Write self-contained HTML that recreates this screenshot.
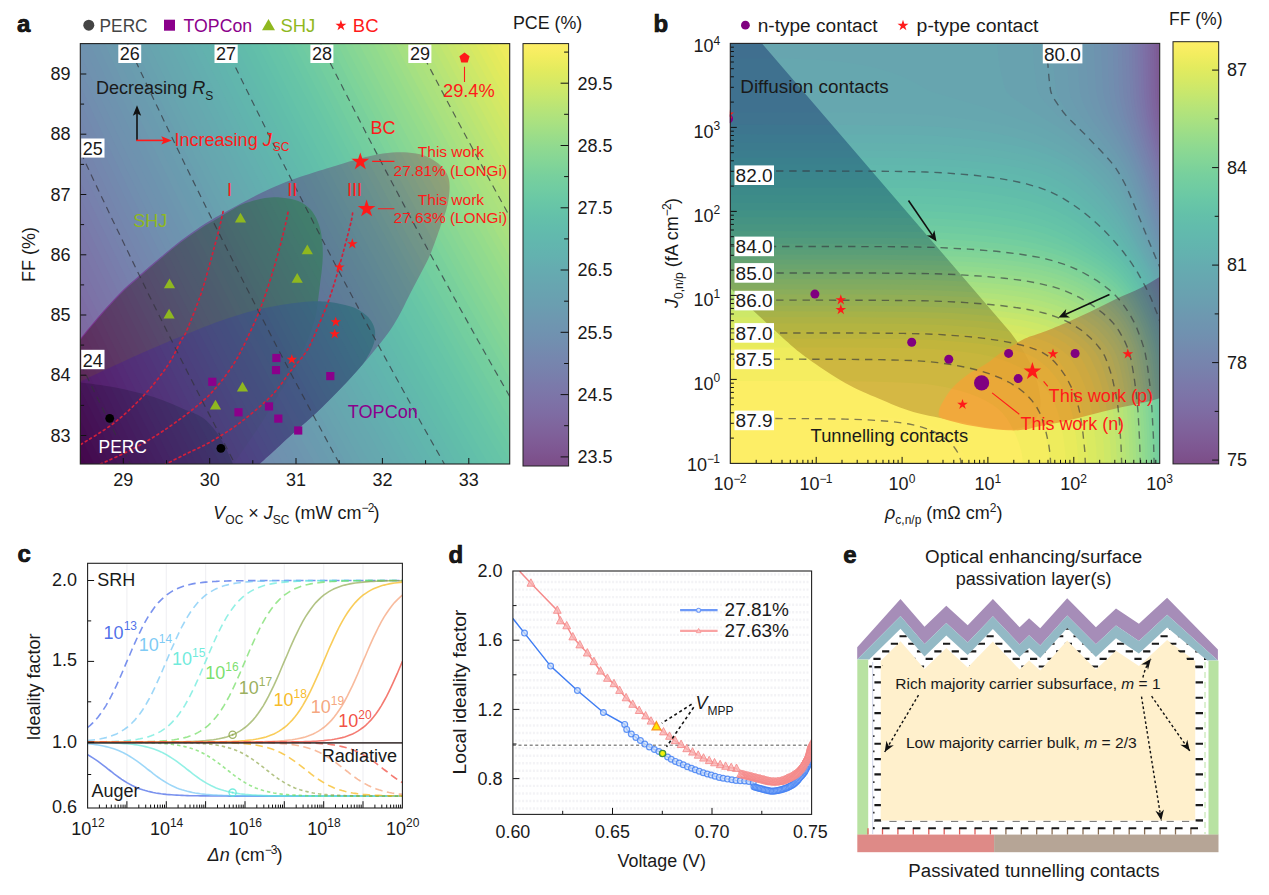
<!DOCTYPE html>
<html><head><meta charset="utf-8"><title>Figure</title>
<style>html,body{margin:0;padding:0;background:#fff}svg{display:block}text{font-family:'Liberation Sans', Arial, Helvetica, sans-serif;font-size:18px;fill:#1a1a1a}</style>
</head><body>
<svg width="1269" height="895" viewBox="0 0 1269 895">
<rect width="1269" height="895" fill="#fff"/>
<clipPath id="ca"><rect x="80.3" y="43.6" width="429.4" height="420.4"/></clipPath>
<g clip-path="url(#ca)">
<path d="M70,352C71.7,349.8 75,345.2 80,339C85,332.8 93.3,322.5 100,314.8C106.7,307.1 113.5,299.4 120.2,292.7C126.9,286 133.6,280.5 140.3,274.6C147,268.7 153.7,262.9 160.4,257.3C167.1,251.7 173.9,246 180.6,240.8C187.3,235.7 194,230.8 200.7,226.4C207.4,222 214.1,218.4 220.8,214.6C227.5,210.8 234.2,207.2 240.9,203.6C247.6,200 254.3,196.3 261,193.1C267.7,189.8 274.4,186.8 281.1,184.1C287.8,181.3 293.1,179.4 301.2,176.6C309.3,173.8 321,170.3 330,167.5C339,164.7 347.7,162 355,160C362.3,158 367.6,156.5 373.8,155.3C380,154.1 386.3,153.1 392,152.6C397.7,152.1 402.7,152.1 408,152.6C413.3,153.1 418.9,153.7 424,155.5C429.1,157.3 434.6,160.4 438.4,163.5C442.2,166.6 445.1,170.2 447,174C448.9,177.8 449.5,180.8 449.6,186C449.7,191.2 448.9,198.5 447.5,205C446.1,211.5 443.8,217.1 441,225C438.2,232.9 434.3,244.7 431,252.7C427.7,260.7 424.3,266.4 421,273C417.7,279.6 414.3,285.5 411,292C407.7,298.5 404.3,305.8 401,312C397.7,318.2 395,323.1 391,329C387,334.9 382,341.1 377,347.3C372,353.6 366.9,359.6 360.8,366.5C354.8,373.4 347.4,381.6 340.7,388.6C334,395.6 327.3,402.3 320.6,408.7C313.9,415.1 307.2,420.8 300.5,426.8C293.8,432.8 285.8,440 280.4,444.9C275,449.8 272.5,452.1 268.3,456C264.1,459.9 257.2,466 255,468L255,480L60,480Z" fill="#f541b6" fill-opacity="1"/>
<path d="M70,353.5C71.7,351.3 75,346.7 80,340.5C85,334.3 93.3,324.1 100,316.4C106.7,308.7 113.5,301.1 120.2,294.4C126.9,287.7 133.6,282.2 140.3,276.3C147,270.4 153.7,264.6 160.4,259C167.1,253.4 173.9,247.7 180.6,242.6C187.3,237.5 194,232.7 200.7,228.4C207.4,224.1 215.8,219.6 220.8,216.6C225.8,213.6 227.6,212.5 230.8,210.6C234,208.7 236.8,206.7 240,205.2C243.2,203.7 246.7,202.7 250,201.7C253.3,200.7 256.7,199.7 260,199C263.3,198.3 266.7,197.9 270,197.6C273.3,197.3 276.7,197.2 280,197.4C283.3,197.6 286.7,198 290,198.7C293.3,199.4 296.8,200.2 300,201.8C303.2,203.4 306.4,205.6 309,208C311.6,210.4 313.5,213 315.3,216.3C317.1,219.6 318.8,223.7 320,228C321.2,232.3 321.8,237.2 322.3,242C322.8,246.8 322.9,251.8 322.8,256.5C322.7,261.2 322.2,265.8 321.8,270C321.4,274.2 320.8,277.7 320.3,282C319.8,286.3 319.4,290.3 318.6,296C317.8,301.7 317.2,309.4 315.6,316.2C314,323 311.5,330.3 309,337C306.5,343.7 302.9,351.1 300.5,356.4C298.1,361.7 298.4,362.5 294.7,369C291,375.5 283.6,386.6 278.3,395.2C273,403.8 268.2,412.4 263.1,420.4C258.1,428.4 252.8,435.9 248,443C243.2,450.1 237.3,458.6 234.1,463.3C230.9,468 229.8,469.7 229,471L229,480L60,480Z" fill="#944126" fill-opacity="1"/>
<path d="M70,387C71.8,386.1 73.5,385 80.9,381.4C88.3,377.8 103.5,370.7 114.4,365.6C125.3,360.5 137.5,354.9 146.4,351C155.3,347.1 161.9,344.4 167.6,342C173.3,339.6 171.7,340.1 180.6,336.6C189.5,333.1 207.4,325.4 220.8,320.8C234.2,316.2 247.6,311.9 261,308.8C274.4,305.7 290.6,303.4 301.2,302.2C311.8,301 316.3,300.9 324.6,301.6C332.9,302.3 344.2,304.5 350.8,306.5C357.4,308.5 360.6,311 364,313.5C367.4,316 369.7,318.6 371.5,321.5C373.3,324.4 374.6,327.4 375,331C375.4,334.6 375.2,338.8 374,343C372.8,347.2 370.2,352.1 368,356C365.8,359.9 365.4,361.1 360.8,366.5C356.2,371.9 347.4,381.6 340.7,388.6C334,395.6 327.3,402.3 320.6,408.7C313.9,415.1 307.2,420.8 300.5,426.8C293.8,432.8 285.8,440 280.4,444.9C275,449.8 272.5,452.1 268.3,456C264.1,459.9 257.2,466 255,468L255,480L60,480Z" fill="#731466" fill-opacity="0.9"/>
<path d="M70,381C71.8,381.2 73.5,381.3 80.9,382.4C88.3,383.4 102.2,384.9 114.4,387.3C126.6,389.8 142.3,393.5 153.8,397.1C165.3,400.7 175.2,405.6 183.4,409C191.6,412.4 197.4,414.1 202.8,417.8C208.2,421.6 212.2,426.6 216,431.5C219.8,436.4 222.5,441.7 225.3,447C228.1,452.3 230.8,458.9 232.6,463.1C234.4,467.3 235.4,470.5 236,472L236,480L60,480Z" fill="#3c001c" fill-opacity="0.9"/>
<g opacity="0.7">
<rect x="79.3" y="42.6" width="431.4" height="422.4" fill="#fde725"/>
<path d="M71.5,-939.8 127.3,-797.8 183.2,-662.1 239,-532.1 294.9,-407.5 350.8,-288 406.6,-173.4 462.5,-63.2 518.3,42.8 518.3,764 71.5,764Z" fill="#f4e61e"/>
<path d="M71.5,-923.8 127.3,-782.2 183.2,-646.8 239,-517.1 294.9,-392.9 350.8,-273.7 406.6,-159.3 462.5,-49.4 518.3,56.3 518.3,764 71.5,764Z" fill="#ece51b"/>
<path d="M71.5,-907.8 127.3,-766.6 183.2,-631.5 239,-502.1 294.9,-378.2 350.8,-259.3 406.6,-145.2 462.5,-35.6 518.3,69.8 518.3,764 71.5,764Z" fill="#e7e419"/>
<path d="M71.5,-891.8 127.3,-750.9 183.2,-616.2 239,-487.2 294.9,-363.6 350.8,-245 406.6,-131.2 462.5,-21.8 518.3,83.3 518.3,764 71.5,764Z" fill="#dfe318"/>
<path d="M71.5,-875.9 127.3,-735.3 183.2,-600.9 239,-472.2 294.9,-348.9 350.8,-230.6 406.6,-117.1 462.5,-8 518.3,96.8 518.3,764 71.5,764Z" fill="#d8e219"/>
<path d="M71.5,-859.9 127.3,-719.7 183.2,-585.6 239,-457.3 294.9,-334.3 350.8,-216.3 406.6,-103 462.5,5.7 518.3,110.4 518.3,764 71.5,764Z" fill="#d0e11c"/>
<path d="M71.5,-843.9 127.3,-704.1 183.2,-570.3 239,-442.3 294.9,-319.6 350.8,-201.9 406.6,-89 462.5,19.5 518.3,123.9 518.3,764 71.5,764Z" fill="#c8e020"/>
<path d="M71.5,-827.9 127.3,-688.4 183.2,-555.1 239,-427.3 294.9,-305 350.8,-187.6 406.6,-74.9 462.5,33.3 518.3,137.4 518.3,764 71.5,764Z" fill="#c0df25"/>
<path d="M71.5,-811.9 127.3,-672.8 183.2,-539.8 239,-412.4 294.9,-290.3 350.8,-173.2 406.6,-60.9 462.5,47.1 518.3,150.9 518.3,764 71.5,764Z" fill="#b8de29"/>
<path d="M71.5,-795.9 127.3,-657.2 183.2,-524.5 239,-397.4 294.9,-275.7 350.8,-158.9 406.6,-46.8 462.5,60.9 518.3,164.4 518.3,764 71.5,764Z" fill="#b2dd2d"/>
<path d="M71.5,-780 127.3,-641.6 183.2,-509.2 239,-382.5 294.9,-261 350.8,-144.6 406.6,-32.7 462.5,74.7 518.3,177.9 518.3,764 71.5,764Z" fill="#aadc32"/>
<path d="M71.5,-764 127.3,-625.9 183.2,-493.9 239,-367.5 294.9,-246.4 350.8,-130.2 406.6,-18.7 462.5,88.5 518.3,191.5 518.3,764 71.5,764Z" fill="#a2da37"/>
<path d="M71.5,-748 127.3,-610.3 183.2,-478.6 239,-352.5 294.9,-231.7 350.8,-115.9 406.6,-4.6 462.5,102.2 518.3,205 518.3,764 71.5,764Z" fill="#9bd93c"/>
<path d="M71.5,-732 127.3,-594.7 183.2,-463.3 239,-337.6 294.9,-217.1 350.8,-101.5 406.6,9.4 462.5,116 518.3,218.5 518.3,764 71.5,764Z" fill="#93d741"/>
<path d="M71.5,-716 127.3,-579.1 183.2,-448.1 239,-322.6 294.9,-202.4 350.8,-87.2 406.6,23.5 462.5,129.8 518.3,232 518.3,764 71.5,764Z" fill="#8bd646"/>
<path d="M71.5,-700.1 127.3,-563.4 183.2,-432.8 239,-307.7 294.9,-187.8 350.8,-72.8 406.6,37.6 462.5,143.6 518.3,245.5 518.3,764 71.5,764Z" fill="#86d549"/>
<path d="M71.5,-684.1 127.3,-547.8 183.2,-417.5 239,-292.7 294.9,-173.1 350.8,-58.5 406.6,51.6 462.5,157.4 518.3,259.1 518.3,764 71.5,764Z" fill="#7fd34e"/>
<path d="M71.5,-668.1 127.3,-532.2 183.2,-402.2 239,-277.7 294.9,-158.5 350.8,-44.1 406.6,65.7 462.5,171.2 518.3,272.6 518.3,764 71.5,764Z" fill="#77d153"/>
<path d="M71.5,-652.1 127.3,-516.6 183.2,-386.9 239,-262.8 294.9,-143.8 350.8,-29.8 406.6,79.7 462.5,184.9 518.3,286.1 518.3,764 71.5,764Z" fill="#70cf57"/>
<path d="M71.5,-636.1 127.3,-500.9 183.2,-371.6 239,-247.8 294.9,-129.2 350.8,-15.4 406.6,93.8 462.5,198.7 518.3,299.6 518.3,764 71.5,764Z" fill="#69cd5b"/>
<path d="M71.5,-620.1 127.3,-485.3 183.2,-356.3 239,-232.9 294.9,-114.6 350.8,-1.1 406.6,107.9 462.5,212.5 518.3,313.1 518.3,764 71.5,764Z" fill="#63cb5f"/>
<path d="M71.5,-604.2 127.3,-469.7 183.2,-341.1 239,-217.9 294.9,-99.9 350.8,13.3 406.6,121.9 462.5,226.3 518.3,326.7 518.3,764 71.5,764Z" fill="#5ec962"/>
<path d="M71.5,-588.2 127.3,-454.1 183.2,-325.8 239,-202.9 294.9,-85.3 350.8,27.6 406.6,136 462.5,240.1 518.3,340.2 518.3,764 71.5,764Z" fill="#58c765"/>
<path d="M71.5,-572.2 127.3,-438.4 183.2,-310.5 239,-188 294.9,-70.6 350.8,42 406.6,150 462.5,253.9 518.3,353.7 518.3,764 71.5,764Z" fill="#52c569"/>
<path d="M71.5,-556.2 127.3,-422.8 183.2,-295.2 239,-173 294.9,-56 350.8,56.3 406.6,164.1 462.5,267.7 518.3,367.2 518.3,764 71.5,764Z" fill="#4cc26c"/>
<path d="M71.5,-540.2 127.3,-407.2 183.2,-279.9 239,-158.1 294.9,-41.3 350.8,70.7 406.6,178.2 462.5,281.4 518.3,380.7 518.3,764 71.5,764Z" fill="#46c06f"/>
<path d="M71.5,-524.3 127.3,-391.5 183.2,-264.6 239,-143.1 294.9,-26.7 350.8,85 406.6,192.2 462.5,295.2 518.3,394.3 518.3,764 71.5,764Z" fill="#40bd72"/>
<path d="M71.5,-508.3 127.3,-375.9 183.2,-249.3 239,-128.1 294.9,-12 350.8,99.4 406.6,206.3 462.5,309 518.3,407.8 518.3,764 71.5,764Z" fill="#3bbb75"/>
<path d="M71.5,-492.3 127.3,-360.3 183.2,-234.1 239,-113.2 294.9,2.6 350.8,113.7 406.6,220.3 462.5,322.8 518.3,421.3 518.3,764 71.5,764Z" fill="#38b977"/>
<path d="M71.5,-476.3 127.3,-344.7 183.2,-218.8 239,-98.2 294.9,17.3 350.8,128.1 406.6,234.4 462.5,336.6 518.3,434.8 518.3,764 71.5,764Z" fill="#34b679"/>
<path d="M71.5,-460.3 127.3,-329 183.2,-203.5 239,-83.3 294.9,31.9 350.8,142.4 406.6,248.5 462.5,350.4 518.3,448.3 518.3,764 71.5,764Z" fill="#2fb47c"/>
<path d="M71.5,-444.3 127.3,-313.4 183.2,-188.2 239,-68.3 294.9,46.6 350.8,156.8 406.6,262.5 462.5,364.1 518.3,461.8 518.3,764 71.5,764Z" fill="#2cb17e"/>
<path d="M71.5,-428.4 127.3,-297.8 183.2,-172.9 239,-53.3 294.9,61.2 350.8,171.1 406.6,276.6 462.5,377.9 518.3,475.4 518.3,764 71.5,764Z" fill="#28ae80"/>
<path d="M71.5,-412.4 127.3,-282.2 183.2,-157.6 239,-38.4 294.9,75.9 350.8,185.5 406.6,290.7 462.5,391.7 518.3,488.9 518.3,764 71.5,764Z" fill="#25ac82"/>
<path d="M71.5,-396.4 127.3,-266.5 183.2,-142.3 239,-23.4 294.9,90.5 350.8,199.8 406.6,304.7 462.5,405.5 518.3,502.4 518.3,764 71.5,764Z" fill="#24aa83"/>
<path d="M71.5,-380.4 127.3,-250.9 183.2,-127.1 239,-8.5 294.9,105.2 350.8,214.2 406.6,318.8 462.5,419.3 518.3,515.9 518.3,764 71.5,764Z" fill="#22a785"/>
<path d="M71.5,-364.4 127.3,-235.3 183.2,-111.8 239,6.5 294.9,119.8 350.8,228.5 406.6,332.8 462.5,433.1 518.3,529.4 518.3,764 71.5,764Z" fill="#20a486"/>
<path d="M71.5,-348.5 127.3,-219.7 183.2,-96.5 239,21.5 294.9,134.5 350.8,242.8 406.6,346.9 462.5,446.9 518.3,543 518.3,764 71.5,764Z" fill="#1fa187"/>
<path d="M71.5,-332.5 127.3,-204 183.2,-81.2 239,36.4 294.9,149.1 350.8,257.2 406.6,361 462.5,460.6 518.3,556.5 518.3,764 71.5,764Z" fill="#1f9f88"/>
<path d="M71.5,-316.5 127.3,-188.4 183.2,-65.9 239,51.4 294.9,163.8 350.8,271.5 406.6,375 462.5,474.4 518.3,570 518.3,764 71.5,764Z" fill="#1e9c89"/>
<path d="M71.5,-300.5 127.3,-172.8 183.2,-50.6 239,66.3 294.9,178.4 350.8,285.9 406.6,389.1 462.5,488.2 518.3,583.5 518.3,764 71.5,764Z" fill="#1f998a"/>
<path d="M71.5,-284.5 127.3,-157.2 183.2,-35.3 239,81.3 294.9,193.1 350.8,300.2 406.6,403.1 462.5,502 518.3,597 518.3,764 71.5,764Z" fill="#1f978b"/>
<path d="M71.5,-268.5 127.3,-141.5 183.2,-20.1 239,96.2 294.9,207.7 350.8,314.6 406.6,417.2 462.5,515.8 518.3,610.6 518.3,764 71.5,764Z" fill="#1f948c"/>
<path d="M71.5,-252.6 127.3,-125.9 183.2,-4.8 239,111.2 294.9,222.3 350.8,328.9 406.6,431.3 462.5,529.6 518.3,624.1 518.3,764 71.5,764Z" fill="#20928c"/>
<path d="M71.5,-236.6 127.3,-110.3 183.2,10.5 239,126.2 294.9,237 350.8,343.3 406.6,445.3 462.5,543.3 518.3,637.6 518.3,764 71.5,764Z" fill="#218f8d"/>
<path d="M71.5,-220.6 127.3,-94.7 183.2,25.8 239,141.1 294.9,251.6 350.8,357.6 406.6,459.4 462.5,557.1 518.3,651.1 518.3,764 71.5,764Z" fill="#228c8d"/>
<path d="M71.5,-204.6 127.3,-79 183.2,41.1 239,156.1 294.9,266.3 350.8,372 406.6,473.4 462.5,570.9 518.3,664.6 518.3,764 71.5,764Z" fill="#23898e"/>
<path d="M71.5,-188.6 127.3,-63.4 183.2,56.4 239,171 294.9,280.9 350.8,386.3 406.6,487.5 462.5,584.7 518.3,678.1 518.3,764 71.5,764Z" fill="#24878e"/>
<path d="M71.5,-172.7 127.3,-47.8 183.2,71.7 239,186 294.9,295.6 350.8,400.7 406.6,501.6 462.5,598.5 518.3,691.7 518.3,764 71.5,764Z" fill="#25848e"/>
<path d="M71.5,-156.7 127.3,-32.2 183.2,86.9 239,201 294.9,310.2 350.8,415 406.6,515.6 462.5,612.3 518.3,705.2 518.3,764 71.5,764Z" fill="#26828e"/>
<path d="M71.5,-140.7 127.3,-16.5 183.2,102.2 239,215.9 294.9,324.9 350.8,429.4 406.6,529.7 462.5,626.1 518.3,718.7 518.3,764 71.5,764Z" fill="#277f8e"/>
<path d="M71.5,-124.7 127.3,-0.9 183.2,117.5 239,230.9 294.9,339.5 350.8,443.7 406.6,543.7 462.5,639.8 518.3,732.2 518.3,764 71.5,764Z" fill="#287c8e"/>
<path d="M71.5,-108.7 127.3,14.7 183.2,132.8 239,245.8 294.9,354.2 350.8,458.1 406.6,557.8 462.5,653.6 518.3,745.7 518.3,764 71.5,764Z" fill="#29798e"/>
<path d="M71.5,-92.7 127.3,30.4 183.2,148.1 239,260.8 294.9,368.8 350.8,472.4 406.6,571.9 462.5,667.4 518.3,759.3 518.3,764 71.5,764Z" fill="#2a768e"/>
<path d="M71.5,-76.8 127.3,46 183.2,163.4 239,275.8 294.9,383.5 350.8,486.8 406.6,585.9 462.5,681.2 518.3,772.8 518.3,764 71.5,764Z" fill="#2b748e"/>
<path d="M71.5,-60.8 127.3,61.6 183.2,178.7 239,290.7 294.9,398.1 350.8,501.1 406.6,600 462.5,695 518.3,786.3 518.3,764 71.5,764Z" fill="#2c718e"/>
<path d="M71.5,-44.8 127.3,77.2 183.2,193.9 239,305.7 294.9,412.8 350.8,515.5 406.6,614 462.5,708.8 518.3,799.8 518.3,764 71.5,764Z" fill="#2e6f8e"/>
<path d="M71.5,-28.8 127.3,92.9 183.2,209.2 239,320.6 294.9,427.4 350.8,529.8 406.6,628.1 462.5,722.5 518.3,813.3 518.3,764 71.5,764Z" fill="#2f6c8e"/>
<path d="M71.5,-12.8 127.3,108.5 183.2,224.5 239,335.6 294.9,442.1 350.8,544.2 406.6,642.2 462.5,736.3 518.3,826.9 518.3,764 71.5,764Z" fill="#30698e"/>
<path d="M71.5,3.1 127.3,124.1 183.2,239.8 239,350.6 294.9,456.7 350.8,558.5 406.6,656.2 462.5,750.1 518.3,840.4 518.3,764 71.5,764Z" fill="#31668e"/>
<path d="M71.5,19.1 127.3,139.7 183.2,255.1 239,365.5 294.9,471.4 350.8,572.9 406.6,670.3 462.5,763.9 518.3,853.9 518.3,764 71.5,764Z" fill="#32648e"/>
<path d="M71.5,35.1 127.3,155.4 183.2,270.4 239,380.5 294.9,486 350.8,587.2 406.6,684.4 462.5,777.7 518.3,867.4 518.3,764 71.5,764Z" fill="#34618d"/>
<path d="M71.5,51.1 127.3,171 183.2,285.7 239,395.4 294.9,500.7 350.8,601.6 406.6,698.4 462.5,791.5 518.3,880.9 518.3,764 71.5,764Z" fill="#355e8d"/>
<path d="M71.5,67.1 127.3,186.6 183.2,300.9 239,410.4 294.9,515.3 350.8,615.9 406.6,712.5 462.5,805.3 518.3,894.5 518.3,764 71.5,764Z" fill="#375b8d"/>
<path d="M71.5,83.1 127.3,202.2 183.2,316.2 239,425.4 294.9,529.9 350.8,630.2 406.6,726.5 462.5,819 518.3,908 518.3,764 71.5,764Z" fill="#38588c"/>
<path d="M71.5,99 127.3,217.9 183.2,331.5 239,440.3 294.9,544.6 350.8,644.6 406.6,740.6 462.5,832.8 518.3,921.5 518.3,764 71.5,764Z" fill="#3a548c"/>
<path d="M71.5,115 127.3,233.5 183.2,346.8 239,455.3 294.9,559.2 350.8,658.9 406.6,754.7 462.5,846.6 518.3,935 518.3,764 71.5,764Z" fill="#3b528b"/>
<path d="M71.5,131 127.3,249.1 183.2,362.1 239,470.2 294.9,573.9 350.8,673.3 406.6,768.7 462.5,860.4 518.3,948.5 518.3,764 71.5,764Z" fill="#3c4f8a"/>
<path d="M71.5,147 127.3,264.7 183.2,377.4 239,485.2 294.9,588.5 350.8,687.6 406.6,782.8 462.5,874.2 518.3,962 518.3,764 71.5,764Z" fill="#3e4c8a"/>
<path d="M71.5,163 127.3,280.4 183.2,392.7 239,500.2 294.9,603.2 350.8,702 406.6,796.8 462.5,888 518.3,975.6 518.3,764 71.5,764Z" fill="#3f4889"/>
<path d="M71.5,178.9 127.3,296 183.2,407.9 239,515.1 294.9,617.8 350.8,716.3 406.6,810.9 462.5,901.7 518.3,989.1 518.3,764 71.5,764Z" fill="#404588"/>
<path d="M71.5,194.9 127.3,311.6 183.2,423.2 239,530.1 294.9,632.5 350.8,730.7 406.6,825 462.5,915.5 518.3,1002.6 518.3,764 71.5,764Z" fill="#424186"/>
<path d="M71.5,210.9 127.3,327.2 183.2,438.5 239,545 294.9,647.1 350.8,745 406.6,839 462.5,929.3 518.3,1016.1 518.3,764 71.5,764Z" fill="#433e85"/>
<path d="M71.5,226.9 127.3,342.9 183.2,453.8 239,560 294.9,661.8 350.8,759.4 406.6,853.1 462.5,943.1 518.3,1029.6 518.3,764 71.5,764Z" fill="#443b84"/>
<path d="M71.5,242.9 127.3,358.5 183.2,469.1 239,575 294.9,676.4 350.8,773.7 406.6,867.1 462.5,956.9 518.3,1043.2 518.3,764 71.5,764Z" fill="#453882"/>
<path d="M71.5,258.9 127.3,374.1 183.2,484.4 239,589.9 294.9,691.1 350.8,788.1 406.6,881.2 462.5,970.7 518.3,1056.7 518.3,764 71.5,764Z" fill="#463480"/>
<path d="M71.5,274.8 127.3,389.7 183.2,499.7 239,604.9 294.9,705.7 350.8,802.4 406.6,895.3 462.5,984.4 518.3,1070.2 518.3,764 71.5,764Z" fill="#46307e"/>
<path d="M71.5,290.8 127.3,405.4 183.2,514.9 239,619.8 294.9,720.4 350.8,816.8 406.6,909.3 462.5,998.2 518.3,1083.7 518.3,764 71.5,764Z" fill="#472d7b"/>
<path d="M71.5,306.8 127.3,421 183.2,530.2 239,634.8 294.9,735 350.8,831.1 406.6,923.4 462.5,1012 518.3,1097.2 518.3,764 71.5,764Z" fill="#482979"/>
<path d="M71.5,322.8 127.3,436.6 183.2,545.5 239,649.8 294.9,749.7 350.8,845.5 406.6,937.4 462.5,1025.8 518.3,1110.8 518.3,764 71.5,764Z" fill="#482677"/>
<path d="M71.5,338.8 127.3,452.3 183.2,560.8 239,664.7 294.9,764.3 350.8,859.8 406.6,951.5 462.5,1039.6 518.3,1124.3 518.3,764 71.5,764Z" fill="#482374"/>
<path d="M71.5,354.7 127.3,467.9 183.2,576.1 239,679.7 294.9,779 350.8,874.2 406.6,965.6 462.5,1053.4 518.3,1137.8 518.3,764 71.5,764Z" fill="#481f70"/>
<path d="M71.5,370.7 127.3,483.5 183.2,591.4 239,694.6 294.9,793.6 350.8,888.5 406.6,979.6 462.5,1067.2 518.3,1151.3 518.3,764 71.5,764Z" fill="#481b6d"/>
<path d="M71.5,386.7 127.3,499.1 183.2,606.7 239,709.6 294.9,808.3 350.8,902.9 406.6,993.7 462.5,1080.9 518.3,1164.8 518.3,764 71.5,764Z" fill="#481769"/>
<path d="M71.5,402.7 127.3,514.8 183.2,621.9 239,724.6 294.9,822.9 350.8,917.2 406.6,1007.7 462.5,1094.7 518.3,1178.4 518.3,764 71.5,764Z" fill="#471365"/>
<path d="M71.5,418.7 127.3,530.4 183.2,637.2 239,739.5 294.9,837.5 350.8,931.6 406.6,1021.8 462.5,1108.5 518.3,1191.9 518.3,764 71.5,764Z" fill="#470e61"/>
<path d="M71.5,434.7 127.3,546 183.2,652.5 239,754.5 294.9,852.2 350.8,945.9 406.6,1035.9 462.5,1122.3 518.3,1205.4 518.3,764 71.5,764Z" fill="#460b5e"/>
<path d="M71.5,450.6 127.3,561.6 183.2,667.8 239,769.4 294.9,866.8 350.8,960.3 406.6,1049.9 462.5,1136.1 518.3,1218.9 518.3,764 71.5,764Z" fill="#46075a"/>
</g>
<path d="M75.8,353.6 94,391.1 112.3,428.1 130.6,464.5 148.8,500.4 167.1,535.7 185.3,570.6 203.6,604.9 221.9,638.8 240.1,672.2 258.4,705.2 276.6,737.7 294.9,769.8 313.2,801.4 331.4,832.6 349.7,863.3 367.9,893.7 386.2,923.7 404.5,953.3 422.7,982.4 441,1011.3 459.2,1039.7 477.5,1067.8 495.8,1095.5 514,1122.9" fill="none" stroke="#33333c" stroke-opacity="0.72" stroke-width="1.2" stroke-dasharray="6.8 5.2"/>
<path d="M75.8,141.9 94,180.9 112.3,219.4 130.6,257.3 148.8,294.7 167.1,331.5 185.3,367.8 203.6,403.6 221.9,438.9 240.1,473.7 258.4,508.1 276.6,541.9 294.9,575.3 313.2,608.3 331.4,640.7 349.7,672.8 367.9,704.4 386.2,735.7 404.5,766.5 422.7,796.9 441,826.9 459.2,856.5 477.5,885.8 495.8,914.6 514,943.2" fill="none" stroke="#33333c" stroke-opacity="0.72" stroke-width="1.2" stroke-dasharray="6.8 5.2"/>
<path d="M75.8,-69.9 94,-29.3 112.3,10.7 130.6,50.2 148.8,89 167.1,127.3 185.3,165.1 203.6,202.3 221.9,239 240.1,275.2 258.4,310.9 276.6,346.2 294.9,380.9 313.2,415.1 331.4,448.9 349.7,482.3 367.9,515.2 386.2,547.6 404.5,579.7 422.7,611.3 441,642.5 459.2,673.3 477.5,703.7 495.8,733.8 514,763.4" fill="none" stroke="#33333c" stroke-opacity="0.72" stroke-width="1.2" stroke-dasharray="6.8 5.2"/>
<path d="M75.8,-281.7 94,-239.5 112.3,-197.9 130.6,-157 148.8,-116.6 167.1,-76.8 185.3,-37.6 203.6,1 221.9,39.2 240.1,76.7 258.4,113.8 276.6,150.4 294.9,186.4 313.2,222 331.4,257.1 349.7,291.7 367.9,325.9 386.2,359.6 404.5,392.9 422.7,425.7 441,458.1 459.2,490.1 477.5,521.7 495.8,552.9 514,583.7" fill="none" stroke="#33333c" stroke-opacity="0.72" stroke-width="1.2" stroke-dasharray="6.8 5.2"/>
<path d="M75.8,-493.5 94,-449.7 112.3,-406.6 130.6,-364.1 148.8,-322.3 167.1,-281 185.3,-240.4 203.6,-200.3 221.9,-160.7 240.1,-121.8 258.4,-83.3 276.6,-45.4 294.9,-8 313.2,28.9 331.4,65.3 349.7,101.2 367.9,136.6 386.2,171.6 404.5,206.1 422.7,240.1 441,273.8 459.2,306.9 477.5,339.7 495.8,372 514,404" fill="none" stroke="#33333c" stroke-opacity="0.72" stroke-width="1.2" stroke-dasharray="6.8 5.2"/>
<path d="M75.8,-705.2 94,-659.9 112.3,-615.3 130.6,-571.3 148.8,-528 167.1,-485.2 185.3,-443.1 203.6,-401.6 221.9,-360.6 240.1,-320.3 258.4,-280.4 276.6,-241.2 294.9,-202.4 313.2,-164.2 331.4,-126.5 349.7,-89.3 367.9,-52.6 386.2,-16.4 404.5,19.3 422.7,54.6 441,89.4 459.2,123.8 477.5,157.7 495.8,191.2 514,224.3" fill="none" stroke="#33333c" stroke-opacity="0.72" stroke-width="1.2" stroke-dasharray="6.8 5.2"/>
<path d="M80.9,444.4C86.5,440.8 103.9,430.9 114.4,422.7C124.9,414.5 135.1,404.7 144,395.2C152.9,385.7 161.4,374.8 167.6,365.6C173.8,356.4 178.2,345.8 181.4,340C184.6,334.2 183.4,338.4 186.6,330.9C189.8,323.3 196.7,306.4 200.7,294.7C204.7,283 207.7,271.2 210.7,260.5C213.7,249.8 216.7,238.5 218.8,230.3C220.9,222.1 222.5,214.4 223.2,211.2" fill="none" stroke="#d21f3a" stroke-width="1.7" stroke-linecap="round" stroke-dasharray="1.9 3.4"/>
<path d="M100.6,464C106.2,461.4 123.6,453.9 134.1,448.3C144.6,442.7 153.8,437.2 163.7,430.6C173.5,424.1 185,415.6 193.2,409C201.4,402.4 206.3,398.4 212.9,391.2C219.5,384 227,374.1 232.6,365.6C238.2,357.1 241.7,349.8 246.4,340C251.1,330.2 256.6,318.4 261,306.8C265.4,295.2 269.4,282.7 273.1,270.6C276.8,258.5 280.6,244.3 283.1,234.4C285.6,224.5 287.4,215.1 288.2,211.2" fill="none" stroke="#d21f3a" stroke-width="1.7" stroke-linecap="round" stroke-dasharray="1.9 3.4"/>
<path d="M160,467C164.2,464.9 176.5,458.7 185.3,454.3C194.1,449.9 203.4,446.1 212.9,440.5C222.4,434.9 232.7,428.4 242.5,420.8C252.3,413.2 263.8,403.7 272,395.2C280.2,386.7 285.8,377.1 291.7,369.6C297.6,362.1 302.6,357.9 307.3,350C312,342.1 316.2,330.9 320,322C323.8,313.1 326.9,305.7 330,296.7C333.1,287.7 335.5,279.8 338.9,267.9C342.3,255.9 348,234.3 350.3,225C352.6,215.7 352.4,214 352.8,211.8" fill="none" stroke="#d21f3a" stroke-width="1.7" stroke-linecap="round" stroke-dasharray="1.9 3.4"/>
</g>
<rect x="118.3" y="44.6" width="22.9" height="18.4" fill="#fff"/>
<text x="129.8" y="60.4" text-anchor="middle" >26</text>
<rect x="214.5" y="44.6" width="23.2" height="18.4" fill="#fff"/>
<text x="226.1" y="60.4" text-anchor="middle" >27</text>
<rect x="310.4" y="44.6" width="23" height="18.4" fill="#fff"/>
<text x="321.9" y="60.4" text-anchor="middle" >28</text>
<rect x="408.3" y="44.6" width="23.1" height="18.4" fill="#fff"/>
<text x="419.9" y="60.4" text-anchor="middle" >29</text>
<rect x="81.2" y="138.5" width="23.3" height="19.1" fill="#fff"/>
<text x="92.8" y="155" text-anchor="middle" >25</text>
<rect x="81.2" y="349.8" width="23.3" height="19.4" fill="#fff"/>
<text x="92.8" y="366.6" text-anchor="middle" >24</text>
<circle cx="109.7" cy="418.3" r="4.4" fill="#000"/>
<circle cx="220.9" cy="448.3" r="4.4" fill="#000"/>
<rect x="208.2" y="377.7" width="8.2" height="8.2" fill="#8b008b"/>
<rect x="272.3" y="353.9" width="8.2" height="8.2" fill="#8b008b"/>
<rect x="271.9" y="366" width="8.2" height="8.2" fill="#8b008b"/>
<rect x="234.4" y="408.2" width="8.2" height="8.2" fill="#8b008b"/>
<rect x="264.9" y="402.3" width="8.2" height="8.2" fill="#8b008b"/>
<rect x="274.2" y="414.5" width="8.2" height="8.2" fill="#8b008b"/>
<rect x="294.1" y="426.4" width="8.2" height="8.2" fill="#8b008b"/>
<rect x="326.2" y="372" width="8.2" height="8.2" fill="#8b008b"/>
<path d="M240.5,212.7 246.1,222.5 234.9,222.5Z" fill="#8fb81f"/>
<path d="M307.3,244.4 312.9,254.2 301.7,254.2Z" fill="#8fb81f"/>
<path d="M297.2,273 302.8,282.8 291.6,282.8Z" fill="#8fb81f"/>
<path d="M169.5,278.4 175.1,288.2 163.9,288.2Z" fill="#8fb81f"/>
<path d="M169.1,308.8 174.7,318.6 163.5,318.6Z" fill="#8fb81f"/>
<path d="M242.5,381.7 248.1,391.5 236.9,391.5Z" fill="#8fb81f"/>
<path d="M215.5,399.8 221.1,409.6 209.9,409.6Z" fill="#8fb81f"/>
<path d="M352.3,238.3 353.6,242.2 357.6,242.2 354.3,244.6 355.6,248.4 352.3,246 349,248.4 350.3,244.6 347,242.2 351,242.2Z" fill="#ff1a1a"/>
<path d="M339.4,261.5 340.7,265.4 344.7,265.4 341.4,267.8 342.7,271.6 339.4,269.2 336.1,271.6 337.4,267.8 334.1,265.4 338.1,265.4Z" fill="#ff1a1a"/>
<path d="M335.7,316.4 337,320.3 341,320.3 337.7,322.7 339,326.5 335.7,324.1 332.4,326.5 333.7,322.7 330.4,320.3 334.4,320.3Z" fill="#ff1a1a"/>
<path d="M334.7,328.4 336,332.3 340,332.3 336.7,334.7 338,338.5 334.7,336.1 331.4,338.5 332.7,334.7 329.4,332.3 333.4,332.3Z" fill="#ff1a1a"/>
<path d="M291.8,353.9 293.1,357.8 297.1,357.8 293.8,360.2 295.1,364 291.8,361.6 288.5,364 289.8,360.2 286.5,357.8 290.5,357.8Z" fill="#ff1a1a"/>
<path d="M360.3,152.4 362.4,158.8 369.1,158.8 363.7,162.8 365.8,169.2 360.3,165.3 354.8,169.2 356.9,162.8 351.5,158.8 358.2,158.8Z" fill="#ff1a1a"/>
<path d="M366.6,199.5 368.7,205.9 375.4,205.9 370,209.9 372.1,216.3 366.6,212.4 361.1,216.3 363.2,209.9 357.8,205.9 364.5,205.9Z" fill="#ff1a1a"/>
<path d="M372.2,161.4H394.4M378,208.8H394.4M464.5,66.8V82" stroke="#ff1a1a" stroke-width="1.1" fill="none"/>
<path d="M464.5,52.6 469.6,56.3 467.7,62.4 461.3,62.4 459.4,56.3Z" fill="#ff1a1a"/>
<path d="M137,140.6V112" stroke="#111" stroke-width="1.6" fill="none"/>
<path d="M137,105.3L141.2,115.8L137,113.6L132.8,115.8Z" fill="#111"/>
<path d="M136.2,140.4H164" stroke="#ff1a1a" stroke-width="1.6" fill="none"/>
<path d="M171.8,140.4L161.3,144.6L163.5,140.4L161.3,136.2Z" fill="#ff1a1a"/>
<text x="96.1" y="94" >Decreasing <tspan style="font-style:italic">R</tspan><tspan style="font-size:12px" dy="6">S</tspan></text>
<text x="174.6" y="145.7" style="fill:#ff1a1a;" >Increasing <tspan style="font-style:italic">J</tspan><tspan style="font-size:12px" dy="5.3" dx="1.2">SC</tspan></text>
<text x="133.3" y="227.3" style="fill:#8fb81f;" >SHJ</text>
<text x="229.4" y="195.6" text-anchor="middle" style="fill:#ff1a1a;" >I</text>
<text x="292.2" y="195.6" text-anchor="middle" style="fill:#ff1a1a;" >II</text>
<text x="354.5" y="195.6" text-anchor="middle" style="fill:#ff1a1a;" >III</text>
<text x="370.4" y="134.1" style="fill:#ff1a1a;" >BC</text>
<text x="443" y="97" textLength="51.7" lengthAdjust="spacingAndGlyphs" style="fill:#ff1a1a;" >29.4%</text>
<text x="417.8" y="156.8" textLength="66.3" lengthAdjust="spacingAndGlyphs" style="fill:#ff1a1a;font-size:15.4px;" >This work</text>
<text x="393.6" y="175.7" textLength="113.5" lengthAdjust="spacingAndGlyphs" style="fill:#ff1a1a;font-size:15.4px;" >27.81% (LONGi)</text>
<text x="417.8" y="204.7" textLength="66.3" lengthAdjust="spacingAndGlyphs" style="fill:#ff1a1a;font-size:15.4px;" >This work</text>
<text x="393.6" y="223.3" textLength="113.5" lengthAdjust="spacingAndGlyphs" style="fill:#ff1a1a;font-size:15.4px;" >27.63% (LONGi)</text>
<text x="347.8" y="417.8" textLength="70" lengthAdjust="spacingAndGlyphs" style="fill:#8b008b;" >TOPCon</text>
<text x="98.6" y="453.3" textLength="48.3" lengthAdjust="spacingAndGlyphs" style="fill:#fff;" >PERC</text>
<path d="M80.3,435.5h6M80.3,375.2h6M80.3,315h6M80.3,254.8h6M80.3,194.5h6M80.3,134.2h6M80.3,74h6M80.3,405.4h3.8M80.3,345.1h3.8M80.3,284.9h3.8M80.3,224.6h3.8M80.3,164.4h3.8M80.3,104.1h3.8M123.3,464v-6M209.7,464v-6M296,464v-6M382.4,464v-6M468.8,464v-6M166.5,464v-3.8M252.8,464v-3.8M339.2,464v-3.8M425.6,464v-3.8" stroke="#111" stroke-width="1" fill="none"/>
<rect x="80.3" y="43.6" width="429.4" height="420.4" fill="none" stroke="#222" stroke-width="1.1"/>
<text x="70.6" y="441.6" text-anchor="end" >83</text>
<text x="70.6" y="381.4" text-anchor="end" >84</text>
<text x="70.6" y="321.1" text-anchor="end" >85</text>
<text x="70.6" y="260.9" text-anchor="end" >86</text>
<text x="70.6" y="200.6" text-anchor="end" >87</text>
<text x="70.6" y="140.3" text-anchor="end" >88</text>
<text x="70.6" y="80.1" text-anchor="end" >89</text>
<text x="123.3" y="486.2" text-anchor="middle" >29</text>
<text x="209.7" y="486.2" text-anchor="middle" >30</text>
<text x="296" y="486.2" text-anchor="middle" >31</text>
<text x="382.4" y="486.2" text-anchor="middle" >32</text>
<text x="468.8" y="486.2" text-anchor="middle" >33</text>
<text transform="translate(35.2 254.6) rotate(-90)" text-anchor="middle">FF (%)</text>
<text x="213.3" y="518.6" ><tspan style="font-style:italic">V</tspan><tspan style="font-size:12px" dy="5">OC</tspan><tspan dy="-5"> × </tspan><tspan style="font-style:italic">J</tspan><tspan style="font-size:12px" dy="5">SC</tspan><tspan dy="-5"> (mW cm</tspan><tspan style="font-size:12px;letter-spacing:-0.8px" dy="-7">−2</tspan><tspan dy="7">)</tspan></text>
<circle cx="88.8" cy="25.2" r="5.5" fill="#444"/>
<text x="99.6" y="31.5" textLength="48" lengthAdjust="spacingAndGlyphs" style="fill:#444;" >PERC</text>
<rect x="164" y="19.7" width="11" height="11" fill="#8b008b"/>
<text x="183.6" y="31.5" textLength="68.5" lengthAdjust="spacingAndGlyphs" style="fill:#8b008b;" >TOPCon</text>
<path d="M268.5,19 275,30.2 262,30.2Z" fill="#8fb81f"/>
<text x="280.4" y="31.5" textLength="34.8" lengthAdjust="spacingAndGlyphs" style="fill:#8fb81f;" >SHJ</text>
<path d="M340.9,19.8 342.2,23.8 346.4,23.8 343,26.3 344.3,30.3 340.9,27.8 337.5,30.3 338.8,26.3 335.4,23.8 339.6,23.8Z" fill="#ff1a1a"/>
<text x="352.8" y="31.5" textLength="25.7" lengthAdjust="spacingAndGlyphs" style="fill:#ff1a1a;" >BC</text>
<text x="17" y="31.5" style="font-weight:bold;font-size:24px;" stroke="#000" stroke-width="0.7">a</text>
<linearGradient id="ga" x1="0" y1="1" x2="0" y2="0">
<stop offset="0%" stop-color="#7c4d87"/>
<stop offset="3.1%" stop-color="#7e5590"/>
<stop offset="6.2%" stop-color="#7f5d97"/>
<stop offset="9.4%" stop-color="#7f659d"/>
<stop offset="12.5%" stop-color="#7e6ca3"/>
<stop offset="15.6%" stop-color="#7d73a7"/>
<stop offset="18.8%" stop-color="#7b79aa"/>
<stop offset="21.9%" stop-color="#7880ac"/>
<stop offset="25%" stop-color="#7686ae"/>
<stop offset="28.1%" stop-color="#738caf"/>
<stop offset="31.2%" stop-color="#7092b0"/>
<stop offset="34.4%" stop-color="#6e97b0"/>
<stop offset="37.5%" stop-color="#6b9db0"/>
<stop offset="40.6%" stop-color="#69a2b0"/>
<stop offset="43.8%" stop-color="#67a7b0"/>
<stop offset="46.9%" stop-color="#65acb0"/>
<stop offset="50%" stop-color="#63b2af"/>
<stop offset="53.1%" stop-color="#62b7ae"/>
<stop offset="56.2%" stop-color="#62bcac"/>
<stop offset="59.4%" stop-color="#64c1a9"/>
<stop offset="62.5%" stop-color="#69c7a6"/>
<stop offset="65.6%" stop-color="#70cca2"/>
<stop offset="68.8%" stop-color="#78d09d"/>
<stop offset="71.9%" stop-color="#83d597"/>
<stop offset="75%" stop-color="#8ed991"/>
<stop offset="78.1%" stop-color="#9bdd89"/>
<stop offset="81.2%" stop-color="#a9e181"/>
<stop offset="84.4%" stop-color="#b7e478"/>
<stop offset="87.5%" stop-color="#c6e76e"/>
<stop offset="90.6%" stop-color="#d5e965"/>
<stop offset="93.8%" stop-color="#e3eb5e"/>
<stop offset="96.9%" stop-color="#f2ed5f"/>
<stop offset="100%" stop-color="#feee66"/>
</linearGradient>
<rect x="523" y="43.6" width="45.6" height="422.4" fill="url(#ga)" stroke="#222" stroke-width="1"/>
<path d="M568.6,456.9h-8M568.6,425.7h-4.5M568.6,394.6h-8M568.6,363.5h-4.5M568.6,332.3h-8M568.6,301.2h-4.5M568.6,270h-8M568.6,238.9h-4.5M568.6,207.8h-8M568.6,176.6h-4.5M568.6,145.5h-8M568.6,114.3h-4.5M568.6,83.2h-8M568.6,52.1h-4.5" stroke="#111" stroke-width="1" fill="none"/>
<text x="577.6" y="463.2" >23.5</text>
<text x="577.6" y="400.9" >24.5</text>
<text x="577.6" y="338.6" >25.5</text>
<text x="577.6" y="276.3" >26.5</text>
<text x="577.6" y="214.1" >27.5</text>
<text x="577.6" y="151.8" >28.5</text>
<text x="577.6" y="89.5" >29.5</text>
<text x="512.9" y="28.5" textLength="69.3" lengthAdjust="spacingAndGlyphs" >PCE (%)</text>
<clipPath id="cb"><rect x="730.3" y="43.4" width="429.4" height="420"/></clipPath>
<g clip-path="url(#cb)">
<path d="M720,30L762,43.4L1011,333L1011,333C1013.2,336.2 1020.2,345.5 1024,352C1027.8,358.5 1031.4,365.3 1034,372C1036.6,378.7 1038.5,386 1039.5,392C1040.5,398 1041,403.3 1040.3,408C1039.5,412.7 1037.7,416.8 1035,420C1032.3,423.2 1028.5,425.4 1024,427C1019.5,428.6 1014.5,429.6 1008,429.6C1001.5,429.6 992.8,428.2 985,427C977.2,425.8 968.9,423.8 961.4,422.3C953.9,420.8 947.2,419.5 940,418C932.8,416.5 924.9,415.1 918.2,413.3C911.5,411.6 905.9,409.7 900,407.5C894.1,405.3 888.2,402.6 882.7,400.3C877.2,398 871.7,395.7 866.8,393.5C861.9,391.3 858,389.8 853.2,387.3C848.4,384.9 842.9,381.8 838,378.8C833.1,375.9 828.5,372.9 823.6,369.6C818.7,366.3 813.2,362.4 808.5,359C803.8,355.6 801.1,353.8 795.4,349C789.7,344.2 781.5,336.6 774.3,330C767.1,323.4 759.2,316.3 752,309.5C744.8,302.7 736.3,294.2 731,289C725.7,283.8 721.8,279.8 720,278Z" fill="#7d4b94" fill-opacity="1"/>
<path d="M1175,268C1172.3,269.6 1164.4,274.2 1158.7,277.5C1153,280.8 1148.2,284.1 1141.1,287.7C1134,291.3 1124.4,295 1116,299C1107.6,303 1099.2,307.6 1090.8,311.6C1082.4,315.6 1074.1,319.3 1065.7,322.9C1057.3,326.5 1047.4,330.4 1040.6,333C1033.8,335.6 1031.1,335.7 1025,338.6C1018.9,341.5 1010.7,346.1 1004,350.4C997.3,354.7 990.9,360.7 985,364.6C979.1,368.5 974,370.1 968.5,374C963,377.9 956.3,383.5 952,388.2C947.7,392.9 944.7,398.6 942.5,402.4C940.3,406.2 939.2,408.4 939,411C938.8,413.6 937.3,415.7 941,417.8C944.7,419.9 954.1,422 961.4,423.7C968.7,425.4 977.1,426.8 985,427.9C992.9,429 1002,430 1008.7,430.3C1015.4,430.6 1019.7,430.3 1025,429.6C1030.3,428.9 1033.8,427.4 1040.6,426C1047.4,424.6 1057.3,422.8 1065.7,420.9C1074.1,419 1082.4,416.8 1090.8,414.7C1099.2,412.6 1107.6,410.3 1116,408.4C1124.4,406.5 1134,404.9 1141.1,403.3C1148.2,401.7 1153,400.1 1158.7,398.5C1164.4,396.9 1172.3,394.8 1175,394Z" fill="#e41478" fill-opacity="0.9"/>
<g opacity="0.7" fill-rule="evenodd">
<rect x="729.3" y="42.4" width="431.4" height="422" fill="#46085c"/>
<path d="M728.6,465.1L1161.4,465.1L1161.4,43.7L1161.3,41.7L728.6,41.7L728.6,463.1Z" fill="#470e61"/>
<path d="M728.6,465.1L1161.4,465.1L1161.4,102.5L1160.6,90.1L1159.6,43.7L1159.6,41.7L728.6,41.7L728.6,463.1Z" fill="#471365"/>
<path d="M728.6,465.1L1161.4,465.1L1161.4,117.8L1159.8,104.2L1158.9,92.1L1157.8,45.8L1157.8,41.7L728.6,41.7L728.6,463.1Z" fill="#48186a"/>
<path d="M728.6,465.1L1161.4,465.1L1161.4,127.6L1159.1,114.3L1157.2,96.2L1156,47.8L1155.9,41.7L728.6,41.7L728.6,463.1Z" fill="#481d6f"/>
<path d="M728.6,465.1L1161.4,465.1L1161.4,136.1L1157.5,116.3L1155.5,98.2L1154.9,88.1L1154,49.8L1153.9,41.7L728.6,41.7L728.6,463.1Z" fill="#482374"/>
<path d="M728.6,465.1L1161.4,465.1L1161.4,144L1156.3,120.3L1153.8,102.2L1152.9,90.1L1152,51.8L1151.9,41.7L728.6,41.7L728.6,463.1Z" fill="#482677"/>
<path d="M728.6,465.1L1161.4,465.1L1161.4,151L1154.7,122.4L1153.3,114.3L1152,104.2L1150.8,90.1L1149.9,53.8L1149.7,41.7L728.6,41.7L728.6,463.1Z" fill="#472c7a"/>
<path d="M728.6,465.1L1161.4,465.1L1161.4,157.7L1156.8,140.5L1154,128.4L1150.8,112.3L1148.7,92.1L1147.7,55.8L1147.5,41.7L728.6,41.7L728.6,463.1Z" fill="#46307e"/>
<path d="M728.6,465.1L1161.4,465.1L1161.4,164.3L1154.4,138.5L1150.5,122.4L1148.6,112.3L1147,100.2L1146.4,92.1L1145.5,57.8L1145.2,41.7L728.6,41.7L728.6,463.1Z" fill="#463480"/>
<path d="M728.6,465.1L1161.4,465.1L1161.4,171L1152.3,138.5L1148.2,122.4L1146.6,114.3L1144.1,94.1L1143.1,61.9L1142.7,41.7L728.6,41.7L728.6,463.1Z" fill="#443983"/>
<path d="M728.6,465.1L1161.4,465.1L1161.4,178.2L1157.4,163.2L1150.1,138.5L1145.9,122.4L1144.2,114.3L1142.4,102.2L1141.6,94.1L1140.6,63.9L1140.2,41.7L728.6,41.7L728.6,463.1Z" fill="#433e85"/>
<path d="M728.6,465.1L1161.4,465.1L1161.4,185.5L1157.1,168.7L1147.8,138.5L1142,116.3L1140.1,104.2L1138.9,94.1L1138,65.9L1137.6,41.7L728.6,41.7L728.6,463.1Z" fill="#414287"/>
<path d="M728.6,465.1L1161.4,465.1L1161.4,192.8L1155.4,169.8L1146,140.5L1141.4,124.4L1139.4,116.3L1137.4,104.2L1136.2,94.1L1135.3,67.9L1134.8,41.7L728.6,41.7L728.6,463.1Z" fill="#404688"/>
<path d="M728.6,465.1L1161.4,465.1L1161.4,200.1L1153.6,170.7L1142.9,138.5L1138.7,124.4L1136.7,116.3L1134.6,104.2L1133.6,96.2L1132.6,72L1132,41.7L728.6,41.7L728.6,463.1Z" fill="#3e4a89"/>
<path d="M728.6,465.1L1161.4,465.1L1161.4,207.2L1155.4,184.3L1151.5,170.7L1140.9,140.5L1134.3,118.3L1132.3,108.2L1130.5,96.2L1129.6,74L1128.9,41.7L728.6,41.7L728.6,463.1Z" fill="#3c4f8a"/>
<path d="M728.6,465.1L1161.4,465.1L1161.4,214L1153.4,184.5L1149.8,172.8L1138.3,140.5L1131.3,118.3L1129.9,112.3L1127.5,98.2L1126.8,90.1L1126.3,78L1125.5,41.7L728.6,41.7L728.6,463.1Z" fill="#3b528b"/>
<path d="M728.6,465.1L1161.4,465.1L1161.4,220.7L1153.4,191.9L1147.5,172.8L1136.2,142.5L1128.1,118.3L1126.6,112.3L1124,98.2L1123.3,92.1L1122.8,82L1121.8,41.7L728.6,41.7L728.6,463.1Z" fill="#39568c"/>
<path d="M728.6,465.1L1161.4,465.1L1161.4,227.2L1151.4,192.5L1145.3,173.4L1132.5,140.5L1123.9,116.3L1119.9,98.2L1119.1,92.1L1118.8,86.1L1117.5,41.7L728.6,41.7L728.6,463.1Z" fill="#375b8d"/>
<path d="M728.6,465.1L1161.4,465.1L1161.4,233.5L1149.3,193.3L1143.3,174.9L1139.3,164.2L1130.2,142.5L1119.9,116.3L1115.7,100.2L1114.3,90.1L1113.3,65.9L1112.7,41.7L728.6,41.7L728.6,463.1Z" fill="#355f8d"/>
<path d="M728.6,465.1L1161.4,465.1L1161.4,239.6L1149.3,200.7L1141.3,176.5L1135.2,161.2L1116.1,118.3L1113.9,112.3L1111.6,104.2L1109.4,94.1L1108.1,72L1107.3,41.7L728.6,41.7L728.6,463.1Z" fill="#33628d"/>
<path d="M728.6,465.1L1161.4,465.1L1161.4,245.3L1145.3,195.7L1137.1,172.8L1133.2,163.3L1129.2,154.6L1110,116.3L1108.5,112.3L1104.7,100.2L1103.4,94.1L1102.8,88.1L1101.7,65.9L1101.1,41.7L728.6,41.7L728.6,463.1Z" fill="#31668e"/>
<path d="M728.6,465.1L1161.4,465.1L1161.4,250.6L1143.3,197.2L1137.3,180.4L1133.2,170.2L1129.2,161.4L1125.2,153.6L1105.1,118.3L1102.3,112.3L1099.4,104.2L1097,96.2L1096,90.1L1094.7,65.9L1094,41.7L728.6,41.7L728.6,463.1Z" fill="#306a8e"/>
<path d="M728.6,465.1L1161.4,465.1L1161.4,255.5L1137.3,188L1133.2,177.5L1129.4,168.7L1125.2,160.4L1121.2,153.4L1109.1,134.5L1099.7,120.3L1096.2,114.3L1094.5,110.3L1090.5,100.2L1088.5,92.1L1087,69.9L1086.2,41.7L728.6,41.7L728.6,463.1Z" fill="#2e6d8e"/>
<path d="M728.6,465.1L1161.4,465.1L1161.4,260.2L1156.3,247.4L1135.2,190.2L1131.2,180.1L1127,170.7L1123.2,163.6L1117.1,154.1L1103,134.6L1093.7,122.4L1088.9,115.1L1085.5,108.2L1082.1,100.2L1079.7,92.1L1078,67.9L1077.2,41.7L728.6,41.7L728.6,463.1Z" fill="#2d718e"/>
<path d="M728.6,465.1L1161.4,465.1L1161.4,264.8L1154.3,247.4L1133.2,192.6L1127.3,178.8L1123.3,170.7L1119.1,163.9L1113.1,155.4L1084,120.3L1079.6,114.3L1074.1,104.2L1071.3,98.2L1069.4,92.1L1067.4,67.9L1066.5,41.7L728.6,41.7L728.6,463.1Z" fill="#2b748e"/>
<path d="M728.6,465.1L1161.4,465.1L1161.4,269.5L1152.1,247.4L1131.2,195.3L1125.2,181.9L1121.2,174.3L1115.1,165L1109.1,157.3L1088.9,135.4L1078.9,125L1072.5,118.3L1067.7,112.3L1059.9,100.2L1057,94.1L1056,90.1L1054.1,72L1053.2,57.8L1052.8,41.7L728.6,41.7L728.6,463.1Z" fill="#2a788e"/>
<path d="M728.6,465.1L1161.4,465.1L1161.4,274.3L1129.2,198.2L1123.2,185.5L1119.1,178.3L1113.1,169.2L1105,159.6L1097,151.4L1074.6,130.4L1060.3,118.3L1056,114.3L1043.3,100.2L1040.2,96.2L1038.1,92.1L1037.4,90.1L1036.1,82L1034.3,67.9L1033.3,55.8L1032.8,41.7L728.6,41.7L728.6,463.1Z" fill="#297b8e"/>
<path d="M728.6,465.1L1161.4,465.1L1161.4,279.1L1156.7,267.5L1146.6,245.3L1129.2,205.5L1123.2,193.2L1117.1,182.6L1109.1,171.2L1101,162.2L1088.9,151.2L1068.8,134.7L1058.7,127.6L1037.2,114.3L1016.3,100.2L1010.8,96.2L1006.9,92.1L1005.7,90.1L1003.3,82L1000,67.9L998.1,53.8L997.5,41.7L728.6,41.7L728.6,463.1Z" fill="#277f8e"/>
<path d="M728.6,465.1L1161.4,465.1L1161.4,283.9L1155.4,269.1L1144,245.3L1131.2,216.9L1123.2,200.7L1117.1,190.3L1109.1,178.6L1104.2,172.8L1099,167.2L1093,161.6L1086.9,156.5L1073.6,146.6L1060.8,138L1052.7,133.2L1044.7,129.1L1034.6,124.8L1024.5,121L986.3,107.7L932.4,92.1L927.6,90.1L915.8,82.9L903.7,77.1L891.7,72.4L877.6,68.2L865.5,65.5L853.4,63.4L839.3,61.6L825.2,60.3L807.1,59.3L787,58.6L728.6,58L728.6,463.1Z" fill="#26828e"/>
<path d="M728.6,465.1L1161.4,465.1L1161.4,288.7L1153.4,269.4L1142.3,247.4L1131.2,223.7L1125.2,211.7L1119.1,201.1L1113.1,191.8L1107.1,183.7L1099,174.5L1088.9,165.1L1076.9,155.9L1062.8,147.2L1046.7,139.1L1034.6,134.1L1020.5,129.7L1002.4,125.3L982.2,121.5L964.1,118.7L940,115.7L925.9,114.5L903.7,113.4L849.4,112.5L728.6,112.3L728.6,463.1Z" fill="#25858e"/>
<path d="M728.6,465.1L1161.4,465.1L1161.4,293.7L1157.4,283.5L1151.4,269.8L1139.6,247.4L1125.2,218.6L1119.1,208.5L1113.1,199.5L1107.1,191.4L1101.6,184.9L1091,174L1080.9,165.7L1068.8,157.7L1056.7,151.4L1042.6,145.5L1028.5,141L1010.4,136.3L990.3,132.5L972.2,130L950,127.7L933.9,126.5L913.8,125.7L857.4,124.9L728.6,124.7L728.6,463.1Z" fill="#23898e"/>
<path d="M728.6,465.1L1161.4,465.1L1161.4,298.9L1155.4,283.6L1149.3,270.4L1125.2,225.4L1121.2,218.6L1115.1,209.6L1109.1,201.6L1101.9,192.9L1091,181.6L1080.9,172.9L1070.8,165.9L1058.7,159.3L1046.7,154.2L1032.6,149.8L1016.5,145.9L996.3,142.3L976.2,139.5L956.1,137.4L938,136L917.8,135.1L861.5,134.3L728.6,134.1L728.6,463.1Z" fill="#228d8d"/>
<path d="M728.6,465.1L1161.4,465.1L1161.4,304.2L1155.4,288.4L1147.5,271.5L1127.2,235.4L1123.2,228.6L1117.1,219.4L1111.1,211.4L1103,201.8L1093,191.3L1080.9,180.5L1070.8,173.1L1060.8,167.3L1048.7,161.9L1036.6,158L1022.5,154.5L1004.4,151.1L986.3,148.6L966.1,146.5L944,144.8L921.8,143.8L865.5,143L728.6,142.8L728.6,463.1Z" fill="#21918c"/>
<path d="M728.6,465.1L1161.4,465.1L1161.4,309.6L1157.4,298.5L1153.4,288.7L1147.3,276.1L1141.3,265L1125.2,238.2L1119.1,229L1111.1,218.3L1102.9,209L1093,199L1080.9,188.2L1070.8,180.7L1064.8,176.9L1058.7,173.6L1048.7,169L1036.6,164.9L1022.5,161.4L1006.4,158.5L988.3,156L968.2,153.9L944,152.2L923.9,151.3L865.5,150.6L728.6,150.4L728.6,463.1Z" fill="#20938c"/>
<path d="M728.6,465.1L1161.4,465.1L1161.4,315.2L1155.4,298.6L1151.6,289.7L1145.3,277.1L1139.3,266.3L1125.2,244.2L1119.1,235.5L1111.1,225.2L1103,216.2L1091,204.6L1078.9,194.4L1068.8,187.2L1058,180.8L1046.7,175.6L1034.6,171.5L1020.5,168L1004.4,165.1L986.3,162.7L966.1,160.8L944,159.2L921.8,158.3L865.5,157.6L728.6,157.5L728.6,463.1Z" fill="#1f978b"/>
<path d="M728.6,465.1L1161.4,465.1L1161.4,321L1157.4,309.3L1151.4,294.3L1145.3,282L1138.4,269.5L1131.2,258.3L1121.2,244.2L1113.1,234.1L1103,223.1L1093,213.6L1078.9,202L1066.8,193.7L1056.7,188L1044.7,182.6L1032.6,178.5L1018.5,175L1002.4,172L986.3,169.8L966.1,167.8L944,166.2L921.8,165.3L865.5,164.6L728.6,164.5L728.6,463.1Z" fill="#1e9b8a"/>
<path d="M728.6,465.1L1161.4,465.1L1161.4,327.2L1157.4,314.8L1150.6,297.8L1145.3,286.8L1136.7,271.5L1131.2,263L1123.2,252.2L1113.1,240.3L1103,229.8L1091,218.9L1078.9,209.4L1066.8,201.3L1054.7,194.8L1042.6,189.6L1030.6,185.7L1016.5,182.3L998.3,179L981.5,176.8L962.1,174.9L940,173.3L919.8,172.5L863.5,171.9L728.6,171.7L728.6,463.1Z" fill="#1f9e89"/>
<path d="M728.6,465.1L1161.4,465.1L1161.4,334.4L1157.4,320.6L1151.4,304.9L1145.3,291.8L1137.3,277.4L1131.1,267.5L1123.2,257.2L1113.1,246.2L1104.1,237.3L1091,225.7L1078.9,216.5L1066.8,208.8L1054.7,202.4L1042.6,197.4L1030.6,193.6L1016.5,190.1L998.3,186.8L980.2,184.4L962.1,182.6L940,181L919.8,180.2L863.5,179.5L728.6,179.4L728.6,463.1Z" fill="#1fa187"/>
<path d="M728.6,465.1L1161.4,465.1L1161.4,342.2L1159.4,334.1L1155.4,320.8L1149.3,305.7L1143.3,293L1135.2,278.9L1129.2,269.6L1123.2,261.9L1115.1,253.5L1105,244.2L1093,234L1078.9,223.4L1068.8,217L1056.7,210.8L1044.7,205.7L1030.6,201.3L1016.5,197.9L998.3,194.7L980.2,192.3L962.1,190.5L940,188.9L919.8,188.1L863.5,187.3L728.6,187.2L728.6,463.1Z" fill="#21a585"/>
<path d="M728.6,465.1L1161.4,465.1L1161.4,351.1L1159,340.1L1155.4,327.1L1151.3,315.9L1143.3,298.2L1137.3,287.2L1129.2,274.5L1123.2,266.7L1115.1,258.4L1107,251.4L1093,240.2L1078.9,230.2L1068.8,224L1056.7,217.8L1044.7,213L1030.6,208.8L1016.5,205.5L998.3,202.4L980.2,200L962.1,198.3L940,196.7L919.8,195.9L863.5,195.2L728.6,195L728.6,463.1Z" fill="#23a983"/>
<path d="M728.6,465.1L1161.4,465.1L1161.4,364.4L1159.7,352.2L1157.4,341.9L1153.5,328L1149.3,316.9L1141.4,299.8L1135.8,289.7L1129.2,279.4L1123.2,271.5L1115.1,263.1L1107.1,256.4L1091,244.7L1078.9,236.6L1066.8,229.6L1054.7,223.9L1042.6,219.4L1030.6,215.9L1016.5,212.8L998.3,209.8L980.2,207.6L962.1,205.9L940,204.4L919.8,203.6L863.5,202.9L728.6,202.8L728.6,463.1Z" fill="#25ac82"/>
<path d="M728.6,465.1L1161.4,465.1L1161.4,382.6L1158.4,356.2L1155.4,342.2L1151.4,328.4L1147.3,317.9L1141.3,305.1L1135.2,293.8L1129.2,284.4L1123.2,276.4L1117.1,269.8L1109.1,262.7L1097,254.1L1078.9,242.8L1066.8,236.1L1054.7,230.6L1042.6,226.3L1030.6,222.9L1016.5,219.9L998.3,217L980.2,214.8L962.1,213.2L940,211.7L919.8,211L863.5,210.3L728.6,210.2L728.6,463.1Z" fill="#29af7f"/>
<path d="M728.6,465.1L1161.4,465.1L1161.4,406.6L1159.6,384.4L1157.4,364.3L1156,354.2L1153.7,344.1L1149.5,330L1146.5,321.9L1141.3,310.6L1134.5,297.8L1129.2,289.3L1123.2,281.3L1117.1,274.7L1111.1,269.1L1101,261.6L1086.9,253L1070.8,244.3L1056.7,237.9L1044.7,233.6L1030.6,229.7L1014.5,226.4L998.3,224L980.2,221.8L962.1,220.3L940,218.8L919.8,218.1L863.5,217.5L728.6,217.3L728.6,463.1Z" fill="#2eb37c"/>
<path d="M728.6,465.1L1161.4,465.1L1160.4,428.8L1158.7,396.5L1157.4,382.4L1155.3,364.3L1153.8,354.2L1152,346.1L1147.8,332L1144.7,324L1139.3,312.2L1133.2,301L1128.7,293.7L1123.2,286.3L1117.1,279.7L1111.1,274.1L1101,266.4L1088.9,259L1072.8,250.8L1056.7,244L1044.7,239.9L1030.6,236.2L1016.5,233.5L998.3,230.7L980.2,228.7L962.1,227.2L940,225.8L919.8,225.1L863.5,224.5L728.6,224.3L728.6,463.1Z" fill="#32b67a"/>
<path d="M728.6,465.1L1159.5,465.1L1158.2,424.8L1156.7,398.6L1155.4,383.5L1153.4,366.2L1151.9,356.2L1150.1,348.2L1147.3,338.4L1143.3,326.9L1139.3,317.9L1133.2,306.5L1127.9,297.8L1123.2,291.3L1117.1,284.6L1111.7,279.6L1101.5,271.5L1091,264.9L1076.9,257.7L1062.8,251.8L1048.7,247L1034.6,243.3L1018.5,240.1L1000.4,237.5L982.2,235.5L962.1,233.8L940,232.5L919.8,231.8L863.5,231.2L728.6,231.1L728.6,463.1Z" fill="#38b977"/>
<path d="M728.6,465.1L1157.4,465.1L1156.1,424.8L1154.6,398.6L1151.4,368.4L1149.5,356.2L1148.2,350.2L1145.3,340.2L1141.8,330L1138.3,321.9L1134.2,313.9L1129.2,305.3L1123.2,296.5L1119.1,291.7L1113,285.7L1103,277.6L1091,269.8L1078.9,263.4L1066.8,258.3L1054.7,254.1L1040.6,250.3L1022.5,246.7L1004.4,244.1L986.3,242.1L966.1,240.4L942,239L921.8,238.3L865.5,237.7L728.6,237.6L728.6,463.1Z" fill="#3fbc73"/>
<path d="M728.6,465.1L1155.3,465.1L1153.8,422.7L1152.3,398.6L1149.2,370.3L1147.4,358.2L1145.7,350.2L1143.3,342.1L1138.9,330L1135.4,321.9L1131.2,314.2L1127.2,307.7L1121.2,299.3L1117.1,294.7L1111.1,289L1101,281.2L1088.9,273.5L1078.9,268.2L1066.8,263.1L1054.7,259.1L1040.6,255.5L1024.5,252.5L1006.4,250L988.3,248.1L966.1,246.4L942,245.1L921.8,244.4L865.5,243.8L728.6,243.7L728.6,463.1Z" fill="#46c06f"/>
<path d="M728.6,465.1L1153,465.1L1151.7,426.8L1150.1,400.6L1147.2,374.4L1144.8,358.2L1143.5,352.2L1141.2,344.1L1137.3,333.2L1134.2,326L1131.2,319.9L1127.2,313.3L1121.2,304.9L1115.1,298L1110.7,293.7L1101,286.1L1091,279.7L1078.9,273.1L1066.8,267.9L1054.7,263.9L1042.6,260.8L1028.5,258.1L1010.4,255.6L992.3,253.7L970.2,252.1L946,250.8L923.9,250.1L865.5,249.5L728.6,249.4L728.6,463.1Z" fill="#4cc26c"/>
<path d="M728.6,465.1L1150.5,465.1L1149.4,430.8L1147.8,402.6L1145.2,378.4L1143.1,364.3L1141.3,354.2L1139,346.1L1135.2,335.8L1132,328L1128.9,321.9L1125.2,315.9L1121.2,310.4L1115.1,303.5L1109.1,297.6L1099,289.8L1088.9,283.5L1076.9,277.2L1064.8,272L1052.7,268.1L1040.6,265.1L1026.5,262.6L1010.4,260.5L992.3,258.7L970.2,257.1L946,255.9L923.9,255.2L865.5,254.7L728.6,254.6L728.6,463.1Z" fill="#54c568"/>
<path d="M728.6,465.1L1148,465.1L1146.9,432.8L1145.1,402.6L1142.2,376.4L1140,362.3L1138.4,354.2L1136,346.1L1133.2,338.6L1129.6,330L1126.4,324L1123.2,318.9L1119.1,313.6L1113.1,307L1107.6,301.8L1099,294.9L1088.9,288.5L1076.9,282.1L1064.8,277L1052.7,273L1040.6,270L1026.5,267.4L1010.4,265.3L992.3,263.5L972.2,262.1L948,260.9L925.9,260.2L867.5,259.6L728.6,259.5L728.6,463.1Z" fill="#5cc863"/>
<path d="M728.6,465.1L1145.3,465.1L1144.3,432.8L1142.4,402.6L1139.3,376.4L1137,362.3L1135.4,354.2L1133.2,347.1L1130.6,340.1L1127,332L1123.7,326L1121,321.9L1116.2,315.9L1111.1,310.6L1105.9,305.8L1095.4,297.8L1085.7,291.7L1074.9,286.2L1062.8,281.3L1050.7,277.5L1038.6,274.6L1022.5,271.7L1006.4,269.7L988.3,268L968.2,266.6L944,265.5L923.9,264.9L865.5,264.4L728.6,264.4L728.6,463.1Z" fill="#63cb5f"/>
<path d="M728.6,465.1L1142.5,465.1L1141.3,430.8L1139.5,402.6L1136.6,378.4L1132.7,356.2L1131,350.2L1127.9,342.1L1125.1,336.1L1121.2,328.8L1117.1,323.1L1113.1,318.4L1108.6,313.9L1103,309.1L1093,301.6L1082.9,295.4L1072.8,290.3L1060.8,285.6L1048.7,281.9L1036.6,279.1L1022.5,276.7L1004.4,274.5L986.3,272.8L968.2,271.5L944,270.4L921.8,269.8L865.5,269.3L728.6,269.2L728.6,463.1Z" fill="#6ccd5a"/>
<path d="M728.6,465.1L1139.6,465.1L1138.5,432.8L1136.5,402.6L1135.2,390.5L1133.2,376.6L1129.4,356.2L1127.5,350.2L1125.2,344.5L1122,338.1L1118.5,332L1115.1,327.2L1111.1,322.4L1107.1,318.3L1102,313.9L1093,307.2L1080.9,299.7L1070.8,294.6L1060.8,290.6L1048.7,286.9L1036.6,284.1L1022.5,281.7L1004.4,279.5L986.3,277.8L966.1,276.5L944,275.4L921.8,274.8L865.5,274.3L728.6,274.2L728.6,463.1Z" fill="#75d054"/>
<path d="M728.6,465.1L1136.5,465.1L1135.3,430.8L1133.4,402.6L1130.5,380.4L1126.2,358.2L1124.4,352.2L1121.8,346.1L1119.1,341.1L1115.1,334.6L1111.8,330L1108.4,326L1104.3,321.9L1099,317.4L1088.9,310.2L1078.9,304.2L1068.8,299.2L1058.7,295.2L1046.7,291.5L1034.6,288.8L1020.5,286.5L1002.4,284.3L984.3,282.7L966.1,281.5L944,280.4L921.8,279.8L865.5,279.3L728.6,279.2L728.6,463.1Z" fill="#7fd34e"/>
<path d="M728.6,465.1L1133.3,465.1L1132.4,436.9L1130.4,406.6L1129.2,395.8L1127.3,382.4L1123.2,362.3L1121.5,356.2L1120,352.2L1117.1,346.2L1114.7,342.1L1110.5,336.1L1105.6,330L1101.7,326L1097.1,321.9L1088.9,315.9L1078.9,309.8L1068.8,304.8L1056.3,299.8L1044.7,296.2L1033.3,293.7L1018.5,291.3L1002.4,289.3L984.3,287.7L966.1,286.5L944,285.4L921.8,284.8L865.5,284.3L728.6,284.2L728.6,463.1Z" fill="#86d549"/>
<path d="M728.6,465.1L1129.9,465.1L1128.9,436.9L1126.8,406.6L1125.3,394.5L1123.6,384.4L1121.2,372.3L1119.2,364.3L1117.4,358.2L1115.9,354.2L1114,350.2L1111.1,345.3L1107.1,339.7L1103,334.8L1098.6,330L1094.1,326L1084.9,319.3L1075.9,313.9L1064.8,308.6L1054.7,304.8L1042.6,301.3L1030.6,298.6L1014.5,296L998.3,294.1L980.2,292.5L962.1,291.4L940,290.4L919.8,289.8L863.5,289.4L728.6,289.3L728.6,463.1Z" fill="#90d743"/>
<path d="M728.6,465.1L1126.1,465.1L1125.2,439.6L1123.1,410.6L1120.3,390.5L1116.3,372.3L1112.1,358.2L1110.3,354.2L1108.1,350.2L1105,345.6L1101,340.6L1096.8,336.1L1091,330.4L1082.9,324.2L1074.9,319.3L1064.8,314.4L1052.7,309.8L1040.6,306.4L1028.5,303.8L1012.4,301.3L994.3,299.1L976.2,297.6L956.1,296.4L917.8,295.1L861.5,294.6L728.6,294.5L728.6,463.1Z" fill="#9bd93c"/>
<path d="M728.6,465.1L1121.8,465.1L1121,442.9L1118.9,414.7L1116.8,398.6L1112.9,380.4L1108.1,364.3L1105.9,358.2L1103.9,354.2L1101.4,350.2L1098.3,346.1L1094.7,342.1L1088.4,336.1L1081.2,330L1072.8,324.5L1063.8,319.9L1052.7,315.6L1040.6,312.1L1028.5,309.5L1012.4,306.9L994.3,304.8L976.2,303.2L956.1,301.9L917.8,300.6L861.5,300.1L728.6,300L728.6,463.1Z" fill="#a2da37"/>
<path d="M728.6,465.1L1116.9,465.1L1116,442.9L1113.6,414.7L1111.2,398.6L1108,384.4L1103,368.8L1099.6,360.2L1097.7,356.2L1095.1,352.2L1091.9,348.2L1088.1,344.1L1082.9,339.3L1074.9,333L1066.8,328L1058.5,324L1047.5,319.9L1036.6,317L1022.5,314.1L1006.9,311.9L990.3,310L972.2,308.6L952,307.4L915.8,306.2L859.4,305.7L728.6,305.6L728.6,463.1Z" fill="#addc30"/>
<path d="M728.6,465.1L1111.2,465.1L1110.3,444.9L1108,418.7L1106,404.6L1102.8,390.5L1100.4,382.4L1097,372.6L1090.6,358.2L1086.5,352.2L1082.9,348.2L1078.9,344.5L1070.8,338.3L1060.8,332.2L1052.7,328.4L1044.7,325.5L1032.6,322.2L1020.5,319.8L1006.4,317.7L988.3,315.7L952,313.1L915.8,311.9L859.4,311.4L728.6,311.3L728.6,463.1Z" fill="#b8de29"/>
<path d="M728.6,465.1L1104.6,465.1L1103.7,444.9L1101.1,418.7L1099.2,406.6L1096.3,394.5L1093.9,386.5L1091,378.4L1084.6,364.3L1079.9,356.2L1076.5,352.2L1072.8,348.7L1064.8,342.8L1056.7,338.2L1046.7,333.6L1036.6,330.1L1026.5,327.6L1012.4,324.9L998.3,322.9L982.2,321.2L946,318.7L911.8,317.7L855.4,317.3L728.6,317.2L728.6,463.1Z" fill="#c2df23"/>
<path d="M728.6,465.1L1097,465.1L1096.1,446.9L1093.8,424.8L1091.8,410.6L1088.9,398.7L1084.9,386.3L1082.5,380.4L1078.9,372.6L1075.4,366.3L1071.6,360.2L1068.8,356.5L1066.6,354.2L1062.8,351L1058.8,348.2L1051.6,344.1L1042.6,340.3L1032.6,336.9L1020.5,333.8L1008.4,331.4L994.3,329.3L976.2,327.3L942,325L907.8,324L853.4,323.6L728.6,323.5L728.6,463.1Z" fill="#cae11f"/>
<path d="M728.6,465.1L1088.3,465.1L1087.5,449L1085.6,430.8L1083.3,414.7L1080.4,402.6L1076.9,391.9L1071.7,380.4L1065.7,370.3L1058.7,361.1L1053.9,356.2L1048,352.2L1039.8,348.2L1028.5,344.3L1016.5,341.2L1002.4,338.5L986.3,336.2L968.2,334.2L938,332L903.7,331L849.4,330.6L728.6,330.5L728.6,463.1Z" fill="#d5e21a"/>
<path d="M728.6,465.1L1078.2,465.1L1077.5,451L1076,436.9L1072.9,416.7L1070.3,406.6L1066.7,396.5L1061.7,386.5L1058.7,381.7L1055,376.4L1048.7,369.1L1042.6,363.5L1035.5,358.2L1028.5,354.7L1021.7,352.2L1010.4,349.1L996.3,346.3L981.9,344.1L964.1,342.2L933.9,340L899.7,339.1L845.3,338.7L728.6,338.6L728.6,463.1Z" fill="#dfe318"/>
<path d="M728.6,465.1L1065.9,465.1L1065.3,453L1063.6,438.9L1060.2,420.7L1057.4,410.6L1053.2,400.6L1048.7,392.8L1042.6,385L1035.9,378.4L1027.9,372.3L1018.5,366.8L1008.7,362.3L998.3,358.5L990,356.2L980.1,354.2L966.6,352.2L952,350.6L925.9,348.8L893.7,348L841.3,347.6L728.6,347.5L728.6,463.1Z" fill="#e7e419"/>
<path d="M728.6,465.1L1049.5,465.1L1048.9,455L1047.1,442.9L1044.3,430.8L1039.9,416.7L1036.6,409.7L1031.8,402.6L1026.5,396.5L1019.4,390.5L1012.4,385.7L1004.4,381.3L994.3,376.9L984.3,373.4L973.6,370.3L962.1,367.7L948,365.1L933.9,363.3L909.8,361.6L875.5,360.7L827.2,360.3L728.6,360.2L728.6,463.1Z" fill="#f1e51d"/>
<path d="M728.6,465.1L1022.9,465.1L1022.5,458.2L1021.3,451L1018.9,442.9L1015.7,434.8L1011.7,426.8L1007,418.7L1002.4,413L997.7,408.6L992.2,404.6L985.4,400.6L976.9,396.5L968.2,393.2L958.1,390.2L946,387.2L935.9,385.4L925.9,384.1L901.7,382.4L869.5,381.5L821.2,381.1L728.6,381L728.6,463.1Z" fill="#fbe723"/>
<path d="M728.6,465.1L965.9,465.1L965.7,461L964.8,457L962.1,451L959.3,446.9L955.9,442.9L951.7,438.9L946.7,434.8L942,431.7L935.9,428.3L929.9,425.7L923.9,423.6L917.8,421.9L909.8,420.2L899.9,418.7L891.7,417.9L871.5,416.5L841.3,415.7L728.6,415.2L728.6,463.1Z" fill="#fde725"/>
</g>
<path d="M1161.4,271.1L1150.5,245.3L1133.2,202.7L1129.2,193.2L1125.2,184.5L1121.2,176.9L1116.1,168.7L1111.1,162.1L1105,155.1L1084.9,134.3L1070.6,120.3L1066.7,116.3L1063.4,112.3L1057.6,104.2L1054.9,100.2L1052.5,96.2L1050.9,92.1L1050.5,90.1L1049,78L1047.5,59.9L1046.9,41.7" fill="none" stroke="#33333c" stroke-opacity="0.62" stroke-width="1.4" stroke-dasharray="7.4 5.8"/>
<path d="M1161.4,326.6L1157.4,314.3L1150.8,297.8L1145.3,286.4L1137,271.5L1131.2,262.6L1123.2,251.8L1113.1,239.8L1103,229.2L1093,219.9L1082.9,211.7L1070.8,203.1L1060.8,197.1L1050.7,192.1L1044.7,189.6L1038.6,187.4L1026.5,183.9L1012.9,180.8L994.3,177.7L974.2,175.3L948,173.1L925.9,172L901.7,171.5L867.5,171.1L728.6,171" fill="none" stroke="#33333c" stroke-opacity="0.62" stroke-width="1.4" stroke-dasharray="7.4 5.8"/>
<path d="M1154.2,465.1L1153.4,436.5L1151.8,406.6L1149.8,384.4L1146.9,362.3L1145,352.2L1143.3,346.1L1141.3,340.1L1136.8,328L1133.9,321.9L1131.2,316.8L1125.2,307.3L1121.2,301.9L1117.1,297.2L1113.1,293.1L1109.1,289.6L1103,284.9L1097,280.7L1091,277L1082.9,272.5L1076.9,269.5L1070.8,266.9L1062.8,263.8L1054.7,261.3L1046.7,259.1L1039.2,257.4L1020.5,254.2L996.3,251.3L968.2,249.1L938,247.5L913.8,246.9L879.6,246.6L728.6,246.4" fill="none" stroke="#33333c" stroke-opacity="0.62" stroke-width="1.4" stroke-dasharray="7.4 5.8"/>
<path d="M1140.4,465.1L1139.6,440.9L1138.1,412.7L1136.2,392.5L1133.7,374.4L1131.2,360.2L1129.1,352.2L1127.2,346.9L1125.2,342.2L1123.1,338.1L1119.1,331.1L1115.6,326L1112.2,321.9L1108.3,317.9L1103,313.3L1097,308.6L1091,304.4L1084.9,300.6L1078.9,297.2L1072.8,294.2L1066.8,291.6L1060.8,289.3L1052.7,286.7L1038.6,283.3L1022.5,280.4L1004.4,278.2L982.2,276.2L956.1,274.6L929.9,273.6L871.5,273L728.6,272.9" fill="none" stroke="#33333c" stroke-opacity="0.62" stroke-width="1.4" stroke-dasharray="7.4 5.8"/>
<path d="M1121.7,465.1L1121,444.9L1119.2,418.7L1117.9,406.6L1115.9,394.5L1112.8,380.4L1110.6,372.3L1108,364.3L1104.8,356.2L1102.6,352.2L1099.7,348.2L1096.4,344.1L1091,338.6L1084.9,333.1L1081.1,330L1072.8,324.6L1067.8,321.9L1062.8,319.6L1056.7,317.1L1050.7,315L1044.7,313.2L1036.6,311.2L1020.5,308.2L1002.4,305.7L984.3,304L966.1,302.6L944,301.4L921.8,300.7L865.5,300.2L728.6,300.1" fill="none" stroke="#33333c" stroke-opacity="0.62" stroke-width="1.4" stroke-dasharray="7.4 5.8"/>
<path d="M1085.4,465.1L1084.8,451L1082.9,432.6L1080.2,414.7L1078.9,408.6L1077.3,402.6L1075.3,396.5L1072.9,390.5L1067.9,380.4L1064.8,375.1L1061.5,370.3L1058.4,366.3L1054.7,362L1050.9,358.2L1048.7,356.4L1042.6,352.7L1034.6,349.1L1025.5,346.1L1014.5,343.4L1000.4,340.7L984.3,338.4L968.2,336.6L938,334.4L921.8,333.8L903.7,333.4L849.4,333L728.6,332.9" fill="none" stroke="#33333c" stroke-opacity="0.62" stroke-width="1.4" stroke-dasharray="7.4 5.8"/>
<path d="M1050.7,465.1L1050.2,455L1048.7,444.3L1046.2,432.8L1042.2,418.7L1039.7,412.7L1036.4,406.6L1032,400.6L1026.4,394.5L1019,388.5L1010.4,383L1001.3,378.4L991.2,374.4L980.2,370.8L968.2,367.8L952,364.6L938,362.6L925.9,361.4L913.8,360.6L879.6,359.6L829.2,359.2L728.6,359.1" fill="none" stroke="#33333c" stroke-opacity="0.62" stroke-width="1.4" stroke-dasharray="7.4 5.8"/>
<path d="M961,465.1L960.8,461L959.8,457L958,453L956.1,449.8L954,446.9L950.3,442.9L945.6,438.9L940,434.9L933.9,431.7L927.9,429.1L921.8,427.1L915.8,425.5L907.8,423.8L899.7,422.6L889.6,421.4L879.6,420.6L865.5,419.8L845.3,419.1L819.7,418.7L728.6,418.4" fill="none" stroke="#33333c" stroke-opacity="0.62" stroke-width="1.4" stroke-dasharray="7.4 5.8"/>
</g>
<rect x="734.5" y="165.4" width="39.5" height="19.6" fill="#fff"/>
<text x="735.6" y="181.9" textLength="37" lengthAdjust="spacingAndGlyphs" >82.0</text>
<rect x="734.5" y="236.6" width="39.5" height="19.6" fill="#fff"/>
<text x="735.6" y="253.1" textLength="37" lengthAdjust="spacingAndGlyphs" >84.0</text>
<rect x="734.5" y="263.1" width="39.5" height="19.6" fill="#fff"/>
<text x="735.6" y="279.6" textLength="37" lengthAdjust="spacingAndGlyphs" >85.0</text>
<rect x="734.5" y="290.8" width="39.5" height="19.6" fill="#fff"/>
<text x="735.6" y="307.3" textLength="37" lengthAdjust="spacingAndGlyphs" >86.0</text>
<rect x="734.5" y="323.1" width="39.5" height="19.6" fill="#fff"/>
<text x="735.6" y="339.6" textLength="37" lengthAdjust="spacingAndGlyphs" >87.0</text>
<rect x="734.5" y="349.6" width="39.5" height="19.6" fill="#fff"/>
<text x="735.6" y="366.1" textLength="37" lengthAdjust="spacingAndGlyphs" >87.5</text>
<rect x="734.5" y="410.6" width="39.5" height="19.6" fill="#fff"/>
<text x="735.6" y="427.1" textLength="37" lengthAdjust="spacingAndGlyphs" >87.9</text>
<rect x="1042.8" y="44.2" width="39.6" height="19.2" fill="#fff"/>
<text x="1043.9" y="60.6" textLength="37" lengthAdjust="spacingAndGlyphs" >80.0</text>
<circle cx="814.9" cy="294.1" r="4.5" fill="#800080"/>
<circle cx="911.7" cy="342.2" r="4.5" fill="#800080"/>
<circle cx="948.8" cy="359.3" r="4.5" fill="#800080"/>
<circle cx="1008.6" cy="353.4" r="4.5" fill="#800080"/>
<circle cx="1018.2" cy="378.6" r="4.5" fill="#800080"/>
<circle cx="1075.1" cy="353.5" r="4.5" fill="#800080"/>
<circle cx="981.6" cy="382.9" r="7.6" fill="#800080"/>
<path d="M840.8,294.3 842.1,298.2 846.1,298.2 842.8,300.6 844.1,304.4 840.8,302 837.5,304.4 838.8,300.6 835.5,298.2 839.5,298.2Z" fill="#ff1a1a"/>
<path d="M840.8,304.1 842.1,308 846.1,308 842.8,310.4 844.1,314.2 840.8,311.8 837.5,314.2 838.8,310.4 835.5,308 839.5,308Z" fill="#ff1a1a"/>
<path d="M962.5,398.9 963.8,402.8 967.8,402.8 964.5,405.2 965.8,409 962.5,406.6 959.2,409 960.5,405.2 957.2,402.8 961.2,402.8Z" fill="#ff1a1a"/>
<path d="M1053,348.4 1054.3,352.3 1058.3,352.3 1055,354.7 1056.3,358.5 1053,356.1 1049.7,358.5 1051,354.7 1047.7,352.3 1051.7,352.3Z" fill="#ff1a1a"/>
<path d="M1127.8,348.4 1129.1,352.3 1133.1,352.3 1129.8,354.7 1131.1,358.5 1127.8,356.1 1124.5,358.5 1125.8,354.7 1122.5,352.3 1126.5,352.3Z" fill="#ff1a1a"/>
<path d="M1032.4,362.1 1034.5,368.5 1041.2,368.5 1035.8,372.5 1037.9,378.9 1032.4,375 1026.9,378.9 1029,372.5 1023.6,368.5 1030.3,368.5Z" fill="#ff1a1a"/>
<path d="M992.1,392.9L1019.3,414.2M1043.6,381.3L1047.8,386.4" stroke="#ff1a1a" stroke-width="1.1" fill="none"/>
<g clip-path="url(#cb2)"><circle cx="728.6" cy="118.8" r="4.5" fill="#800080"/><path d="M728.8,108.6 730.1,112.5 734.1,112.5 730.8,114.9 732.1,118.7 728.8,116.3 725.5,118.7 726.8,114.9 723.5,112.5 727.5,112.5Z" fill="#ff1a1a"/></g>
<clipPath id="cb2"><rect x="729.8" y="100" width="6" height="40"/></clipPath>
<path d="M908.5,200.5L932.4,235.4" stroke="#111" stroke-width="1.6" fill="none"/><path d="M936.5,241.5L926.8,235.4L932.2,235.3L934.4,230.2Z" fill="#111"/>
<path d="M1109.5,294.5L1065.2,314.5" stroke="#111" stroke-width="1.6" fill="none"/><path d="M1058.5,317.5L1066.2,309L1065.4,314.4L1070,317.4Z" fill="#111"/>
<text x="740.3" y="93" textLength="148.5" lengthAdjust="spacingAndGlyphs" >Diffusion contacts</text>
<text x="810.6" y="442.4" textLength="157.5" lengthAdjust="spacingAndGlyphs" >Tunnelling contacts</text>
<text x="1048.6" y="401.8" textLength="104.5" lengthAdjust="spacingAndGlyphs" style="fill:#ff1a1a;" >This work (p)</text>
<text x="1020.6" y="429.5" textLength="103.5" lengthAdjust="spacingAndGlyphs" style="fill:#ff1a1a;" >This work (n)</text>
<path d="M730.3,438.1h3.6M730.3,423.3h3.6M730.3,412.8h3.6M730.3,404.7h3.6M730.3,398h3.6M730.3,392.4h3.6M730.3,387.5h3.6M730.3,383.2h3.6M730.3,379.4h6.5M730.3,354.1h3.6M730.3,339.3h3.6M730.3,328.8h3.6M730.3,320.7h3.6M730.3,314h3.6M730.3,308.4h3.6M730.3,303.5h3.6M730.3,299.2h3.6M730.3,295.4h6.5M730.3,270.1h3.6M730.3,255.3h3.6M730.3,244.8h3.6M730.3,236.7h3.6M730.3,230h3.6M730.3,224.4h3.6M730.3,219.5h3.6M730.3,215.2h3.6M730.3,211.4h6.5M730.3,186.1h3.6M730.3,171.3h3.6M730.3,160.8h3.6M730.3,152.7h3.6M730.3,146h3.6M730.3,140.4h3.6M730.3,135.5h3.6M730.3,131.2h3.6M730.3,127.4h6.5M730.3,102.1h3.6M730.3,87.3h3.6M730.3,76.8h3.6M730.3,68.7h3.6M730.3,62h3.6M730.3,56.4h3.6M730.3,51.5h3.6M730.3,47.2h3.6M756.2,463.4v-3.6M771.3,463.4v-3.6M782,463.4v-3.6M790.3,463.4v-3.6M797.1,463.4v-3.6M802.9,463.4v-3.6M807.9,463.4v-3.6M812.3,463.4v-3.6M816.2,463.4v-6.5M842,463.4v-3.6M857.2,463.4v-3.6M867.9,463.4v-3.6M876.2,463.4v-3.6M883,463.4v-3.6M888.8,463.4v-3.6M893.7,463.4v-3.6M898.1,463.4v-3.6M902.1,463.4v-6.5M927.9,463.4v-3.6M943,463.4v-3.6M953.8,463.4v-3.6M962.1,463.4v-3.6M968.9,463.4v-3.6M974.6,463.4v-3.6M979.6,463.4v-3.6M984,463.4v-3.6M987.9,463.4v-6.5M1013.8,463.4v-3.6M1028.9,463.4v-3.6M1039.6,463.4v-3.6M1048,463.4v-3.6M1054.8,463.4v-3.6M1060.5,463.4v-3.6M1065.5,463.4v-3.6M1069.9,463.4v-3.6M1073.8,463.4v-6.5M1099.7,463.4v-3.6M1114.8,463.4v-3.6M1125.5,463.4v-3.6M1133.8,463.4v-3.6M1140.6,463.4v-3.6M1146.4,463.4v-3.6M1151.4,463.4v-3.6M1155.8,463.4v-3.6" stroke="#111" stroke-width="1" fill="none"/>
<rect x="730.3" y="43.4" width="429.4" height="420" fill="none" stroke="#222" stroke-width="1.1"/>
<text x="693.5" y="52.4" >10<tspan style="font-size:12px;letter-spacing:-0.8px" dy="-7.5">4</tspan></text>
<text x="693.5" y="137.6" >10<tspan style="font-size:12px;letter-spacing:-0.8px" dy="-7.5">3</tspan></text>
<text x="693.5" y="221.6" >10<tspan style="font-size:12px;letter-spacing:-0.8px" dy="-7.5">2</tspan></text>
<text x="693.5" y="305.6" >10<tspan style="font-size:12px;letter-spacing:-0.8px" dy="-7.5">1</tspan></text>
<text x="693.5" y="389.6" >10<tspan style="font-size:12px;letter-spacing:-0.8px" dy="-7.5">0</tspan></text>
<text x="687" y="470.7" >10<tspan style="font-size:12px;letter-spacing:-0.8px" dy="-7.5">−1</tspan></text>
<text x="713.5" y="490.2" >10<tspan style="font-size:12px;letter-spacing:-0.8px" dy="-7.5">−2</tspan></text>
<text x="799.4" y="490.2" >10<tspan style="font-size:12px;letter-spacing:-0.8px" dy="-7.5">−1</tspan></text>
<text x="888.6" y="490.2" >10<tspan style="font-size:12px;letter-spacing:-0.8px" dy="-7.5">0</tspan></text>
<text x="974.4" y="490.2" >10<tspan style="font-size:12px;letter-spacing:-0.8px" dy="-7.5">1</tspan></text>
<text x="1060.3" y="490.2" >10<tspan style="font-size:12px;letter-spacing:-0.8px" dy="-7.5">2</tspan></text>
<text x="1146.2" y="490.2" >10<tspan style="font-size:12px;letter-spacing:-0.8px" dy="-7.5">3</tspan></text>
<text transform="translate(677.5 253) rotate(-90)" text-anchor="middle"><tspan style="font-style:italic">J</tspan><tspan style="font-size:12px" dy="5">0,n/p</tspan><tspan dy="-5"> (fA cm</tspan><tspan style="font-size:12px;letter-spacing:-0.8px" dy="-7">−2</tspan><tspan dy="7">)</tspan></text>
<text x="885" y="518.7" ><tspan style="font-style:italic">ρ</tspan><tspan style="font-size:12px" dy="5">c,n/p</tspan><tspan dy="-5"> (mΩ cm</tspan><tspan style="font-size:12px" dy="-7">2</tspan><tspan dy="7">)</tspan></text>
<circle cx="745.4" cy="25.2" r="4.4" fill="#800080"/>
<text x="757.7" y="31.5" textLength="119.8" lengthAdjust="spacingAndGlyphs" >n-type contact</text>
<path d="M903,19.8 904.3,23.8 908.5,23.8 905.1,26.3 906.4,30.3 903,27.8 899.6,30.3 900.9,26.3 897.5,23.8 901.7,23.8Z" fill="#ff1a1a"/>
<text x="916.6" y="31.5" textLength="121.9" lengthAdjust="spacingAndGlyphs" >p-type contact</text>
<text x="653.5" y="31.5" style="font-weight:bold;font-size:24px;" stroke="#000" stroke-width="0.7">b</text>
<linearGradient id="gb" x1="0" y1="1" x2="0" y2="0">
<stop offset="0%" stop-color="#7c4d87"/>
<stop offset="3.1%" stop-color="#7e5590"/>
<stop offset="6.2%" stop-color="#7f5d97"/>
<stop offset="9.4%" stop-color="#7f659d"/>
<stop offset="12.5%" stop-color="#7e6ca3"/>
<stop offset="15.6%" stop-color="#7d73a7"/>
<stop offset="18.8%" stop-color="#7b79aa"/>
<stop offset="21.9%" stop-color="#7880ac"/>
<stop offset="25%" stop-color="#7686ae"/>
<stop offset="28.1%" stop-color="#738caf"/>
<stop offset="31.2%" stop-color="#7092b0"/>
<stop offset="34.4%" stop-color="#6e97b0"/>
<stop offset="37.5%" stop-color="#6b9db0"/>
<stop offset="40.6%" stop-color="#69a2b0"/>
<stop offset="43.8%" stop-color="#67a7b0"/>
<stop offset="46.9%" stop-color="#65acb0"/>
<stop offset="50%" stop-color="#63b2af"/>
<stop offset="53.1%" stop-color="#62b7ae"/>
<stop offset="56.2%" stop-color="#62bcac"/>
<stop offset="59.4%" stop-color="#64c1a9"/>
<stop offset="62.5%" stop-color="#69c7a6"/>
<stop offset="65.6%" stop-color="#70cca2"/>
<stop offset="68.8%" stop-color="#78d09d"/>
<stop offset="71.9%" stop-color="#83d597"/>
<stop offset="75%" stop-color="#8ed991"/>
<stop offset="78.1%" stop-color="#9bdd89"/>
<stop offset="81.2%" stop-color="#a9e181"/>
<stop offset="84.4%" stop-color="#b7e478"/>
<stop offset="87.5%" stop-color="#c6e76e"/>
<stop offset="90.6%" stop-color="#d5e965"/>
<stop offset="93.8%" stop-color="#e3eb5e"/>
<stop offset="96.9%" stop-color="#f2ed5f"/>
<stop offset="100%" stop-color="#feee66"/>
</linearGradient>
<rect x="1173" y="41.7" width="45.7" height="422.2" fill="url(#gb)" stroke="#222" stroke-width="1"/>
<path d="M1218.7,460.1h-6.6M1218.7,411.4h-4M1218.7,362.6h-6.6M1218.7,313.9h-4M1218.7,265.1h-6.6M1218.7,216.3h-4M1218.7,167.6h-6.6M1218.7,118.8h-4M1218.7,70.1h-6.6" stroke="#111" stroke-width="1" fill="none"/>
<text x="1227" y="466.4" >75</text>
<text x="1227" y="368.9" >78</text>
<text x="1227" y="271.4" >81</text>
<text x="1227" y="173.9" >84</text>
<text x="1227" y="76.4" >87</text>
<text x="1168.9" y="25.2" textLength="53.7" lengthAdjust="spacingAndGlyphs" >FF (%)</text>
<clipPath id="cc"><rect x="87.6" y="563.3" width="314.8" height="244.7"/></clipPath>
<path d="M126.9,564.3V807M166.3,564.3V807M205.6,564.3V807M245,564.3V807M284.3,564.3V807M323.7,564.3V807M363,564.3V807" stroke="#f1f1f4" stroke-width="1.2" fill="none"/>
<g clip-path="url(#cc)" fill="none" stroke-width="1.6" stroke-opacity="0.68">
<path d="M87.6,727.5L90.2,725.3L92.8,722.8L95.5,720.1L98.1,717L100.7,713.5L103.3,709.7L106,705.6L108.6,701L111.2,696.2L113.8,690.9L116.5,685.4L119.1,679.6L121.7,673.7L124.3,667.5L126.9,661.4L129.6,655.2L132.2,649L134.8,643.1L137.4,637.3L140.1,631.8L142.7,626.5L145.3,621.7L147.9,617.1L150.6,613L153.2,609.2L155.8,605.7L158.4,602.6L161.1,599.9L163.7,597.4L166.3,595.2L168.9,593.3L171.5,591.6L174.2,590.1L176.8,588.8L179.4,587.7L182,586.7L184.7,585.8L187.3,585.1L189.9,584.5L192.5,583.9L195.2,583.4L197.8,583L200.4,582.7L203,582.4L205.6,582.1L208.3,581.9L210.9,581.7L213.5,581.5L216.1,581.4L218.8,581.2L221.4,581.1L224,581.1L226.6,581L229.3,580.9L231.9,580.8L234.5,580.8L237.1,580.8L239.8,580.7L242.4,580.7L245,580.7L247.6,580.6L250.2,580.6L252.9,580.6L255.5,580.6L258.1,580.6L260.7,580.6L263.4,580.6L266,580.5L268.6,580.5L271.2,580.5L273.9,580.5L276.5,580.5L279.1,580.5L281.7,580.5L284.3,580.5L287,580.5L289.6,580.5L292.2,580.5L294.8,580.5L297.5,580.5L300.1,580.5L302.7,580.5L305.3,580.5L308,580.5L310.6,580.5L313.2,580.5L315.8,580.5L318.5,580.5L321.1,580.5L323.7,580.5L326.3,580.5L328.9,580.5L331.6,580.5L334.2,580.5L336.8,580.5L339.4,580.5L342.1,580.5L344.7,580.5L347.3,580.5L349.9,580.5L352.6,580.5L355.2,580.5L357.8,580.5L360.4,580.5L363,580.5L365.7,580.5L368.3,580.5L370.9,580.5L373.5,580.5L376.2,580.5L378.8,580.5L381.4,580.5L384,580.5L386.7,580.5L389.3,580.5L391.9,580.5L394.5,580.5L397.2,580.5L399.8,580.5L402.4,580.5" stroke="#3b5fe6" stroke-dasharray="7.5 4.5"/>
<path d="M87.6,754.6L90.2,756.2L92.8,757.8L95.5,759.6L98.1,761.4L100.7,763.4L103.3,765.4L106,767.4L108.6,769.5L111.2,771.5L113.8,773.6L116.5,775.6L119.1,777.5L121.7,779.3L124.3,781L126.9,782.6L129.6,784.1L132.2,785.5L134.8,786.7L137.4,787.9L140.1,788.9L142.7,789.8L145.3,790.6L147.9,791.3L150.6,791.9L153.2,792.5L155.8,793L158.4,793.4L161.1,793.8L163.7,794.1L166.3,794.4L168.9,794.6L171.5,794.8L174.2,795L176.8,795.1L179.4,795.3L182,795.4L184.7,795.5L187.3,795.6L189.9,795.7L192.5,795.7L195.2,795.8L197.8,795.8L200.4,795.9L203,795.9L205.6,795.9L208.3,795.9L210.9,796L213.5,796L216.1,796L218.8,796L221.4,796L224,796L226.6,796L229.3,796.1L231.9,796.1L234.5,796.1L237.1,796.1L239.8,796.1L242.4,796.1L245,796.1L247.6,796.1L250.2,796.1L252.9,796.1L255.5,796.1L258.1,796.1L260.7,796.1L263.4,796.1L266,796.1L268.6,796.1L271.2,796.1L273.9,796.1L276.5,796.1L279.1,796.1L281.7,796.1L284.3,796.1L287,796.1L289.6,796.1L292.2,796.1L294.8,796.1L297.5,796.1L300.1,796.1L302.7,796.1L305.3,796.1L308,796.1L310.6,796.1L313.2,796.1L315.8,796.1L318.5,796.1L321.1,796.1L323.7,796.1L326.3,796.1L328.9,796.1L331.6,796.1L334.2,796.1L336.8,796.1L339.4,796.1L342.1,796.1L344.7,796.1L347.3,796.1L349.9,796.1L352.6,796.1L355.2,796.1L357.8,796.1L360.4,796.1L363,796.1L365.7,796.1L368.3,796.1L370.9,796.1L373.5,796.1L376.2,796.1L378.8,796.1L381.4,796.1L384,796.1L386.7,796.1L389.3,796.1L391.9,796.1L394.5,796.1L397.2,796.1L399.8,796.1L402.4,796.1" stroke="#3b5fe6"/>
<path d="M87.6,740.6L90.2,740.3L92.8,740L95.5,739.7L98.1,739.3L100.7,738.8L103.3,738.2L106,737.6L108.6,736.9L111.2,736L113.8,735L116.5,733.9L119.1,732.6L121.7,731.1L124.3,729.4L126.9,727.5L129.6,725.3L132.2,722.8L134.8,720.1L137.4,717L140.1,713.5L142.7,709.7L145.3,705.6L147.9,701L150.6,696.2L153.2,690.9L155.8,685.4L158.4,679.6L161.1,673.7L163.7,667.5L166.3,661.4L168.9,655.2L171.5,649L174.2,643.1L176.8,637.3L179.4,631.8L182,626.5L184.7,621.7L187.3,617.1L189.9,613L192.5,609.2L195.2,605.7L197.8,602.6L200.4,599.9L203,597.4L205.6,595.2L208.3,593.3L210.9,591.6L213.5,590.1L216.1,588.8L218.8,587.7L221.4,586.7L224,585.8L226.6,585.1L229.3,584.5L231.9,583.9L234.5,583.4L237.1,583L239.8,582.7L242.4,582.4L245,582.1L247.6,581.9L250.2,581.7L252.9,581.5L255.5,581.4L258.1,581.2L260.7,581.1L263.4,581.1L266,581L268.6,580.9L271.2,580.8L273.9,580.8L276.5,580.8L279.1,580.7L281.7,580.7L284.3,580.7L287,580.6L289.6,580.6L292.2,580.6L294.8,580.6L297.5,580.6L300.1,580.6L302.7,580.6L305.3,580.5L308,580.5L310.6,580.5L313.2,580.5L315.8,580.5L318.5,580.5L321.1,580.5L323.7,580.5L326.3,580.5L328.9,580.5L331.6,580.5L334.2,580.5L336.8,580.5L339.4,580.5L342.1,580.5L344.7,580.5L347.3,580.5L349.9,580.5L352.6,580.5L355.2,580.5L357.8,580.5L360.4,580.5L363,580.5L365.7,580.5L368.3,580.5L370.9,580.5L373.5,580.5L376.2,580.5L378.8,580.5L381.4,580.5L384,580.5L386.7,580.5L389.3,580.5L391.9,580.5L394.5,580.5L397.2,580.5L399.8,580.5L402.4,580.5" stroke="#6ec4f4" stroke-dasharray="7.5 4.5"/>
<path d="M87.6,743.8L90.2,744L92.8,744.3L95.5,744.6L98.1,745L100.7,745.5L103.3,746L106,746.6L108.6,747.2L111.2,748L113.8,748.8L116.5,749.7L119.1,750.8L121.7,751.9L124.3,753.2L126.9,754.6L129.6,756.2L132.2,757.8L134.8,759.6L137.4,761.4L140.1,763.4L142.7,765.4L145.3,767.4L147.9,769.5L150.6,771.5L153.2,773.6L155.8,775.6L158.4,777.5L161.1,779.3L163.7,781L166.3,782.6L168.9,784.1L171.5,785.5L174.2,786.7L176.8,787.9L179.4,788.9L182,789.8L184.7,790.6L187.3,791.3L189.9,791.9L192.5,792.5L195.2,793L197.8,793.4L200.4,793.8L203,794.1L205.6,794.4L208.3,794.6L210.9,794.8L213.5,795L216.1,795.1L218.8,795.3L221.4,795.4L224,795.5L226.6,795.6L229.3,795.7L231.9,795.7L234.5,795.8L237.1,795.8L239.8,795.9L242.4,795.9L245,795.9L247.6,795.9L250.2,796L252.9,796L255.5,796L258.1,796L260.7,796L263.4,796L266,796L268.6,796.1L271.2,796.1L273.9,796.1L276.5,796.1L279.1,796.1L281.7,796.1L284.3,796.1L287,796.1L289.6,796.1L292.2,796.1L294.8,796.1L297.5,796.1L300.1,796.1L302.7,796.1L305.3,796.1L308,796.1L310.6,796.1L313.2,796.1L315.8,796.1L318.5,796.1L321.1,796.1L323.7,796.1L326.3,796.1L328.9,796.1L331.6,796.1L334.2,796.1L336.8,796.1L339.4,796.1L342.1,796.1L344.7,796.1L347.3,796.1L349.9,796.1L352.6,796.1L355.2,796.1L357.8,796.1L360.4,796.1L363,796.1L365.7,796.1L368.3,796.1L370.9,796.1L373.5,796.1L376.2,796.1L378.8,796.1L381.4,796.1L384,796.1L386.7,796.1L389.3,796.1L391.9,796.1L394.5,796.1L397.2,796.1L399.8,796.1L402.4,796.1" stroke="#6ec4f4"/>
<path d="M87.6,742L90.2,742L92.8,742L95.5,741.9L98.1,741.9L100.7,741.9L103.3,741.8L106,741.7L108.6,741.6L111.2,741.6L113.8,741.5L116.5,741.3L119.1,741.2L121.7,741L124.3,740.8L126.9,740.6L129.6,740.3L132.2,740L134.8,739.7L137.4,739.3L140.1,738.8L142.7,738.2L145.3,737.6L147.9,736.9L150.6,736L153.2,735L155.8,733.9L158.4,732.6L161.1,731.1L163.7,729.4L166.3,727.5L168.9,725.3L171.5,722.8L174.2,720.1L176.8,717L179.4,713.5L182,709.7L184.7,705.6L187.3,701L189.9,696.2L192.5,690.9L195.2,685.4L197.8,679.6L200.4,673.7L203,667.5L205.6,661.4L208.3,655.2L210.9,649L213.5,643.1L216.1,637.3L218.8,631.8L221.4,626.5L224,621.7L226.6,617.1L229.3,613L231.9,609.2L234.5,605.7L237.1,602.6L239.8,599.9L242.4,597.4L245,595.2L247.6,593.3L250.2,591.6L252.9,590.1L255.5,588.8L258.1,587.7L260.7,586.7L263.4,585.8L266,585.1L268.6,584.5L271.2,583.9L273.9,583.4L276.5,583L279.1,582.7L281.7,582.4L284.3,582.1L287,581.9L289.6,581.7L292.2,581.5L294.8,581.4L297.5,581.2L300.1,581.1L302.7,581.1L305.3,581L308,580.9L310.6,580.8L313.2,580.8L315.8,580.8L318.5,580.7L321.1,580.7L323.7,580.7L326.3,580.6L328.9,580.6L331.6,580.6L334.2,580.6L336.8,580.6L339.4,580.6L342.1,580.6L344.7,580.5L347.3,580.5L349.9,580.5L352.6,580.5L355.2,580.5L357.8,580.5L360.4,580.5L363,580.5L365.7,580.5L368.3,580.5L370.9,580.5L373.5,580.5L376.2,580.5L378.8,580.5L381.4,580.5L384,580.5L386.7,580.5L389.3,580.5L391.9,580.5L394.5,580.5L397.2,580.5L399.8,580.5L402.4,580.5" stroke="#5ee9d8" stroke-dasharray="7.5 4.5"/>
<path d="M87.6,742.4L90.2,742.4L92.8,742.4L95.5,742.5L98.1,742.5L100.7,742.5L103.3,742.6L106,742.7L108.6,742.7L111.2,742.8L113.8,742.9L116.5,743.1L119.1,743.2L121.7,743.4L124.3,743.6L126.9,743.8L129.6,744L132.2,744.3L134.8,744.6L137.4,745L140.1,745.5L142.7,746L145.3,746.6L147.9,747.2L150.6,748L153.2,748.8L155.8,749.7L158.4,750.8L161.1,751.9L163.7,753.2L166.3,754.6L168.9,756.2L171.5,757.8L174.2,759.6L176.8,761.4L179.4,763.4L182,765.4L184.7,767.4L187.3,769.5L189.9,771.5L192.5,773.6L195.2,775.6L197.8,777.5L200.4,779.3L203,781L205.6,782.6L208.3,784.1L210.9,785.5L213.5,786.7L216.1,787.9L218.8,788.9L221.4,789.8L224,790.6L226.6,791.3L229.3,791.9L231.9,792.5L234.5,793L237.1,793.4L239.8,793.8L242.4,794.1L245,794.4L247.6,794.6L250.2,794.8L252.9,795L255.5,795.1L258.1,795.3L260.7,795.4L263.4,795.5L266,795.6L268.6,795.7L271.2,795.7L273.9,795.8L276.5,795.8L279.1,795.9L281.7,795.9L284.3,795.9L287,795.9L289.6,796L292.2,796L294.8,796L297.5,796L300.1,796L302.7,796L305.3,796L308,796.1L310.6,796.1L313.2,796.1L315.8,796.1L318.5,796.1L321.1,796.1L323.7,796.1L326.3,796.1L328.9,796.1L331.6,796.1L334.2,796.1L336.8,796.1L339.4,796.1L342.1,796.1L344.7,796.1L347.3,796.1L349.9,796.1L352.6,796.1L355.2,796.1L357.8,796.1L360.4,796.1L363,796.1L365.7,796.1L368.3,796.1L370.9,796.1L373.5,796.1L376.2,796.1L378.8,796.1L381.4,796.1L384,796.1L386.7,796.1L389.3,796.1L391.9,796.1L394.5,796.1L397.2,796.1L399.8,796.1L402.4,796.1" stroke="#5ee9d8"/>
<path d="M87.6,742.2L90.2,742.2L92.8,742.2L95.5,742.2L98.1,742.2L100.7,742.2L103.3,742.2L106,742.2L108.6,742.1L111.2,742.1L113.8,742.1L116.5,742.1L119.1,742.1L121.7,742.1L124.3,742.1L126.9,742L129.6,742L132.2,742L134.8,741.9L137.4,741.9L140.1,741.9L142.7,741.8L145.3,741.7L147.9,741.6L150.6,741.6L153.2,741.5L155.8,741.3L158.4,741.2L161.1,741L163.7,740.8L166.3,740.6L168.9,740.3L171.5,740L174.2,739.7L176.8,739.3L179.4,738.8L182,738.2L184.7,737.6L187.3,736.9L189.9,736L192.5,735L195.2,733.9L197.8,732.6L200.4,731.1L203,729.4L205.6,727.5L208.3,725.3L210.9,722.8L213.5,720.1L216.1,717L218.8,713.5L221.4,709.7L224,705.6L226.6,701L229.3,696.2L231.9,690.9L234.5,685.4L237.1,679.6L239.8,673.7L242.4,667.5L245,661.4L247.6,655.2L250.2,649L252.9,643.1L255.5,637.3L258.1,631.8L260.7,626.5L263.4,621.7L266,617.1L268.6,613L271.2,609.2L273.9,605.7L276.5,602.6L279.1,599.9L281.7,597.4L284.3,595.2L287,593.3L289.6,591.6L292.2,590.1L294.8,588.8L297.5,587.7L300.1,586.7L302.7,585.8L305.3,585.1L308,584.5L310.6,583.9L313.2,583.4L315.8,583L318.5,582.7L321.1,582.4L323.7,582.1L326.3,581.9L328.9,581.7L331.6,581.5L334.2,581.4L336.8,581.2L339.4,581.1L342.1,581.1L344.7,581L347.3,580.9L349.9,580.8L352.6,580.8L355.2,580.8L357.8,580.7L360.4,580.7L363,580.7L365.7,580.6L368.3,580.6L370.9,580.6L373.5,580.6L376.2,580.6L378.8,580.6L381.4,580.6L384,580.5L386.7,580.5L389.3,580.5L391.9,580.5L394.5,580.5L397.2,580.5L399.8,580.5L402.4,580.5" stroke="#6bdc5b" stroke-dasharray="7.5 4.5"/>
<path d="M87.6,742.2L90.2,742.2L92.8,742.2L95.5,742.2L98.1,742.2L100.7,742.2L103.3,742.2L106,742.2L108.6,742.3L111.2,742.3L113.8,742.3L116.5,742.3L119.1,742.3L121.7,742.3L124.3,742.3L126.9,742.4L129.6,742.4L132.2,742.4L134.8,742.5L137.4,742.5L140.1,742.5L142.7,742.6L145.3,742.7L147.9,742.7L150.6,742.8L153.2,742.9L155.8,743.1L158.4,743.2L161.1,743.4L163.7,743.6L166.3,743.8L168.9,744L171.5,744.3L174.2,744.6L176.8,745L179.4,745.5L182,746L184.7,746.6L187.3,747.2L189.9,748L192.5,748.8L195.2,749.7L197.8,750.8L200.4,751.9L203,753.2L205.6,754.6L208.3,756.2L210.9,757.8L213.5,759.6L216.1,761.4L218.8,763.4L221.4,765.4L224,767.4L226.6,769.5L229.3,771.5L231.9,773.6L234.5,775.6L237.1,777.5L239.8,779.3L242.4,781L245,782.6L247.6,784.1L250.2,785.5L252.9,786.7L255.5,787.9L258.1,788.9L260.7,789.8L263.4,790.6L266,791.3L268.6,791.9L271.2,792.5L273.9,793L276.5,793.4L279.1,793.8L281.7,794.1L284.3,794.4L287,794.6L289.6,794.8L292.2,795L294.8,795.1L297.5,795.3L300.1,795.4L302.7,795.5L305.3,795.6L308,795.7L310.6,795.7L313.2,795.8L315.8,795.8L318.5,795.9L321.1,795.9L323.7,795.9L326.3,795.9L328.9,796L331.6,796L334.2,796L336.8,796L339.4,796L342.1,796L344.7,796L347.3,796.1L349.9,796.1L352.6,796.1L355.2,796.1L357.8,796.1L360.4,796.1L363,796.1L365.7,796.1L368.3,796.1L370.9,796.1L373.5,796.1L376.2,796.1L378.8,796.1L381.4,796.1L384,796.1L386.7,796.1L389.3,796.1L391.9,796.1L394.5,796.1L397.2,796.1L399.8,796.1L402.4,796.1" stroke="#6bdc5b" stroke-dasharray="3.4 3"/>
<path d="M87.6,742.2L90.2,742.2L92.8,742.2L95.5,742.2L98.1,742.2L100.7,742.2L103.3,742.2L106,742.2L108.6,742.2L111.2,742.2L113.8,742.2L116.5,742.2L119.1,742.2L121.7,742.2L124.3,742.2L126.9,742.2L129.6,742.2L132.2,742.2L134.8,742.2L137.4,742.2L140.1,742.2L142.7,742.2L145.3,742.2L147.9,742.1L150.6,742.1L153.2,742.1L155.8,742.1L158.4,742.1L161.1,742.1L163.7,742.1L166.3,742L168.9,742L171.5,742L174.2,741.9L176.8,741.9L179.4,741.9L182,741.8L184.7,741.7L187.3,741.6L189.9,741.6L192.5,741.5L195.2,741.3L197.8,741.2L200.4,741L203,740.8L205.6,740.6L208.3,740.3L210.9,740L213.5,739.7L216.1,739.3L218.8,738.8L221.4,738.2L224,737.6L226.6,736.9L229.3,736L231.9,735L234.5,733.9L237.1,732.6L239.8,731.1L242.4,729.4L245,727.5L247.6,725.3L250.2,722.8L252.9,720.1L255.5,717L258.1,713.5L260.7,709.7L263.4,705.6L266,701L268.6,696.2L271.2,690.9L273.9,685.4L276.5,679.6L279.1,673.7L281.7,667.5L284.3,661.4L287,655.2L289.6,649L292.2,643.1L294.8,637.3L297.5,631.8L300.1,626.5L302.7,621.7L305.3,617.1L308,613L310.6,609.2L313.2,605.7L315.8,602.6L318.5,599.9L321.1,597.4L323.7,595.2L326.3,593.3L328.9,591.6L331.6,590.1L334.2,588.8L336.8,587.7L339.4,586.7L342.1,585.8L344.7,585.1L347.3,584.5L349.9,583.9L352.6,583.4L355.2,583L357.8,582.7L360.4,582.4L363,582.1L365.7,581.9L368.3,581.7L370.9,581.5L373.5,581.4L376.2,581.2L378.8,581.1L381.4,581.1L384,581L386.7,580.9L389.3,580.8L391.9,580.8L394.5,580.8L397.2,580.7L399.8,580.7L402.4,580.7" stroke="#8ea64a"/>
<path d="M87.6,742.2L90.2,742.2L92.8,742.2L95.5,742.2L98.1,742.2L100.7,742.2L103.3,742.2L106,742.2L108.6,742.2L111.2,742.2L113.8,742.2L116.5,742.2L119.1,742.2L121.7,742.2L124.3,742.2L126.9,742.2L129.6,742.2L132.2,742.2L134.8,742.2L137.4,742.2L140.1,742.2L142.7,742.2L145.3,742.2L147.9,742.3L150.6,742.3L153.2,742.3L155.8,742.3L158.4,742.3L161.1,742.3L163.7,742.3L166.3,742.4L168.9,742.4L171.5,742.4L174.2,742.5L176.8,742.5L179.4,742.5L182,742.6L184.7,742.7L187.3,742.7L189.9,742.8L192.5,742.9L195.2,743.1L197.8,743.2L200.4,743.4L203,743.6L205.6,743.8L208.3,744L210.9,744.3L213.5,744.6L216.1,745L218.8,745.5L221.4,746L224,746.6L226.6,747.2L229.3,748L231.9,748.8L234.5,749.7L237.1,750.8L239.8,751.9L242.4,753.2L245,754.6L247.6,756.2L250.2,757.8L252.9,759.6L255.5,761.4L258.1,763.4L260.7,765.4L263.4,767.4L266,769.5L268.6,771.5L271.2,773.6L273.9,775.6L276.5,777.5L279.1,779.3L281.7,781L284.3,782.6L287,784.1L289.6,785.5L292.2,786.7L294.8,787.9L297.5,788.9L300.1,789.8L302.7,790.6L305.3,791.3L308,791.9L310.6,792.5L313.2,793L315.8,793.4L318.5,793.8L321.1,794.1L323.7,794.4L326.3,794.6L328.9,794.8L331.6,795L334.2,795.1L336.8,795.3L339.4,795.4L342.1,795.5L344.7,795.6L347.3,795.7L349.9,795.7L352.6,795.8L355.2,795.8L357.8,795.9L360.4,795.9L363,795.9L365.7,795.9L368.3,796L370.9,796L373.5,796L376.2,796L378.8,796L381.4,796L384,796L386.7,796.1L389.3,796.1L391.9,796.1L394.5,796.1L397.2,796.1L399.8,796.1L402.4,796.1" stroke="#8ea64a" stroke-dasharray="3.4 3"/>
<path d="M87.6,742.2L90.2,742.2L92.8,742.2L95.5,742.2L98.1,742.2L100.7,742.2L103.3,742.2L106,742.2L108.6,742.2L111.2,742.2L113.8,742.2L116.5,742.2L119.1,742.2L121.7,742.2L124.3,742.2L126.9,742.2L129.6,742.2L132.2,742.2L134.8,742.2L137.4,742.2L140.1,742.2L142.7,742.2L145.3,742.2L147.9,742.2L150.6,742.2L153.2,742.2L155.8,742.2L158.4,742.2L161.1,742.2L163.7,742.2L166.3,742.2L168.9,742.2L171.5,742.2L174.2,742.2L176.8,742.2L179.4,742.2L182,742.2L184.7,742.2L187.3,742.1L189.9,742.1L192.5,742.1L195.2,742.1L197.8,742.1L200.4,742.1L203,742.1L205.6,742L208.3,742L210.9,742L213.5,741.9L216.1,741.9L218.8,741.9L221.4,741.8L224,741.7L226.6,741.6L229.3,741.6L231.9,741.5L234.5,741.3L237.1,741.2L239.8,741L242.4,740.8L245,740.6L247.6,740.3L250.2,740L252.9,739.7L255.5,739.3L258.1,738.8L260.7,738.2L263.4,737.6L266,736.9L268.6,736L271.2,735L273.9,733.9L276.5,732.6L279.1,731.1L281.7,729.4L284.3,727.5L287,725.3L289.6,722.8L292.2,720.1L294.8,717L297.5,713.5L300.1,709.7L302.7,705.6L305.3,701L308,696.2L310.6,690.9L313.2,685.4L315.8,679.6L318.5,673.7L321.1,667.5L323.7,661.4L326.3,655.2L328.9,649L331.6,643.1L334.2,637.3L336.8,631.8L339.4,626.5L342.1,621.7L344.7,617.1L347.3,613L349.9,609.2L352.6,605.7L355.2,602.6L357.8,599.9L360.4,597.4L363,595.2L365.7,593.3L368.3,591.6L370.9,590.1L373.5,588.8L376.2,587.7L378.8,586.7L381.4,585.8L384,585.1L386.7,584.5L389.3,583.9L391.9,583.4L394.5,583L397.2,582.7L399.8,582.4L402.4,582.1" stroke="#f6b40a"/>
<path d="M87.6,742.2L90.2,742.2L92.8,742.2L95.5,742.2L98.1,742.2L100.7,742.2L103.3,742.2L106,742.2L108.6,742.2L111.2,742.2L113.8,742.2L116.5,742.2L119.1,742.2L121.7,742.2L124.3,742.2L126.9,742.2L129.6,742.2L132.2,742.2L134.8,742.2L137.4,742.2L140.1,742.2L142.7,742.2L145.3,742.2L147.9,742.2L150.6,742.2L153.2,742.2L155.8,742.2L158.4,742.2L161.1,742.2L163.7,742.2L166.3,742.2L168.9,742.2L171.5,742.2L174.2,742.2L176.8,742.2L179.4,742.2L182,742.2L184.7,742.2L187.3,742.3L189.9,742.3L192.5,742.3L195.2,742.3L197.8,742.3L200.4,742.3L203,742.3L205.6,742.4L208.3,742.4L210.9,742.4L213.5,742.5L216.1,742.5L218.8,742.5L221.4,742.6L224,742.7L226.6,742.7L229.3,742.8L231.9,742.9L234.5,743.1L237.1,743.2L239.8,743.4L242.4,743.6L245,743.8L247.6,744L250.2,744.3L252.9,744.6L255.5,745L258.1,745.5L260.7,746L263.4,746.6L266,747.2L268.6,748L271.2,748.8L273.9,749.7L276.5,750.8L279.1,751.9L281.7,753.2L284.3,754.6L287,756.2L289.6,757.8L292.2,759.6L294.8,761.4L297.5,763.4L300.1,765.4L302.7,767.4L305.3,769.5L308,771.5L310.6,773.6L313.2,775.6L315.8,777.5L318.5,779.3L321.1,781L323.7,782.6L326.3,784.1L328.9,785.5L331.6,786.7L334.2,787.9L336.8,788.9L339.4,789.8L342.1,790.6L344.7,791.3L347.3,791.9L349.9,792.5L352.6,793L355.2,793.4L357.8,793.8L360.4,794.1L363,794.4L365.7,794.6L368.3,794.8L370.9,795L373.5,795.1L376.2,795.3L378.8,795.4L381.4,795.5L384,795.6L386.7,795.7L389.3,795.7L391.9,795.8L394.5,795.8L397.2,795.9L399.8,795.9L402.4,795.9" stroke="#f6b40a" stroke-dasharray="7.5 4.5"/>
<path d="M87.6,742.2L90.2,742.2L92.8,742.2L95.5,742.2L98.1,742.2L100.7,742.2L103.3,742.2L106,742.2L108.6,742.2L111.2,742.2L113.8,742.2L116.5,742.2L119.1,742.2L121.7,742.2L124.3,742.2L126.9,742.2L129.6,742.2L132.2,742.2L134.8,742.2L137.4,742.2L140.1,742.2L142.7,742.2L145.3,742.2L147.9,742.2L150.6,742.2L153.2,742.2L155.8,742.2L158.4,742.2L161.1,742.2L163.7,742.2L166.3,742.2L168.9,742.2L171.5,742.2L174.2,742.2L176.8,742.2L179.4,742.2L182,742.2L184.7,742.2L187.3,742.2L189.9,742.2L192.5,742.2L195.2,742.2L197.8,742.2L200.4,742.2L203,742.2L205.6,742.2L208.3,742.2L210.9,742.2L213.5,742.2L216.1,742.2L218.8,742.2L221.4,742.2L224,742.2L226.6,742.1L229.3,742.1L231.9,742.1L234.5,742.1L237.1,742.1L239.8,742.1L242.4,742.1L245,742L247.6,742L250.2,742L252.9,741.9L255.5,741.9L258.1,741.9L260.7,741.8L263.4,741.7L266,741.6L268.6,741.6L271.2,741.5L273.9,741.3L276.5,741.2L279.1,741L281.7,740.8L284.3,740.6L287,740.3L289.6,740L292.2,739.7L294.8,739.3L297.5,738.8L300.1,738.2L302.7,737.6L305.3,736.9L308,736L310.6,735L313.2,733.9L315.8,732.6L318.5,731.1L321.1,729.4L323.7,727.5L326.3,725.3L328.9,722.8L331.6,720.1L334.2,717L336.8,713.5L339.4,709.7L342.1,705.6L344.7,701L347.3,696.2L349.9,690.9L352.6,685.4L355.2,679.6L357.8,673.7L360.4,667.5L363,661.4L365.7,655.2L368.3,649L370.9,643.1L373.5,637.3L376.2,631.8L378.8,626.5L381.4,621.7L384,617.1L386.7,613L389.3,609.2L391.9,605.7L394.5,602.6L397.2,599.9L399.8,597.4L402.4,595.2" stroke="#f49b6f"/>
<path d="M87.6,742.2L90.2,742.2L92.8,742.2L95.5,742.2L98.1,742.2L100.7,742.2L103.3,742.2L106,742.2L108.6,742.2L111.2,742.2L113.8,742.2L116.5,742.2L119.1,742.2L121.7,742.2L124.3,742.2L126.9,742.2L129.6,742.2L132.2,742.2L134.8,742.2L137.4,742.2L140.1,742.2L142.7,742.2L145.3,742.2L147.9,742.2L150.6,742.2L153.2,742.2L155.8,742.2L158.4,742.2L161.1,742.2L163.7,742.2L166.3,742.2L168.9,742.2L171.5,742.2L174.2,742.2L176.8,742.2L179.4,742.2L182,742.2L184.7,742.2L187.3,742.2L189.9,742.2L192.5,742.2L195.2,742.2L197.8,742.2L200.4,742.2L203,742.2L205.6,742.2L208.3,742.2L210.9,742.2L213.5,742.2L216.1,742.2L218.8,742.2L221.4,742.2L224,742.2L226.6,742.3L229.3,742.3L231.9,742.3L234.5,742.3L237.1,742.3L239.8,742.3L242.4,742.3L245,742.4L247.6,742.4L250.2,742.4L252.9,742.5L255.5,742.5L258.1,742.5L260.7,742.6L263.4,742.7L266,742.7L268.6,742.8L271.2,742.9L273.9,743.1L276.5,743.2L279.1,743.4L281.7,743.6L284.3,743.8L287,744L289.6,744.3L292.2,744.6L294.8,745L297.5,745.5L300.1,746L302.7,746.6L305.3,747.2L308,748L310.6,748.8L313.2,749.7L315.8,750.8L318.5,751.9L321.1,753.2L323.7,754.6L326.3,756.2L328.9,757.8L331.6,759.6L334.2,761.4L336.8,763.4L339.4,765.4L342.1,767.4L344.7,769.5L347.3,771.5L349.9,773.6L352.6,775.6L355.2,777.5L357.8,779.3L360.4,781L363,782.6L365.7,784.1L368.3,785.5L370.9,786.7L373.5,787.9L376.2,788.9L378.8,789.8L381.4,790.6L384,791.3L386.7,791.9L389.3,792.5L391.9,793L394.5,793.4L397.2,793.8L399.8,794.1L402.4,794.4" stroke="#f49b6f" stroke-dasharray="7.5 4.5"/>
<path d="M87.6,742.2L90.2,742.2L92.8,742.2L95.5,742.2L98.1,742.2L100.7,742.2L103.3,742.2L106,742.2L108.6,742.2L111.2,742.2L113.8,742.2L116.5,742.2L119.1,742.2L121.7,742.2L124.3,742.2L126.9,742.2L129.6,742.2L132.2,742.2L134.8,742.2L137.4,742.2L140.1,742.2L142.7,742.2L145.3,742.2L147.9,742.2L150.6,742.2L153.2,742.2L155.8,742.2L158.4,742.2L161.1,742.2L163.7,742.2L166.3,742.2L168.9,742.2L171.5,742.2L174.2,742.2L176.8,742.2L179.4,742.2L182,742.2L184.7,742.2L187.3,742.2L189.9,742.2L192.5,742.2L195.2,742.2L197.8,742.2L200.4,742.2L203,742.2L205.6,742.2L208.3,742.2L210.9,742.2L213.5,742.2L216.1,742.2L218.8,742.2L221.4,742.2L224,742.2L226.6,742.2L229.3,742.2L231.9,742.2L234.5,742.2L237.1,742.2L239.8,742.2L242.4,742.2L245,742.2L247.6,742.2L250.2,742.2L252.9,742.2L255.5,742.2L258.1,742.2L260.7,742.2L263.4,742.2L266,742.1L268.6,742.1L271.2,742.1L273.9,742.1L276.5,742.1L279.1,742.1L281.7,742.1L284.3,742L287,742L289.6,742L292.2,741.9L294.8,741.9L297.5,741.9L300.1,741.8L302.7,741.7L305.3,741.6L308,741.6L310.6,741.5L313.2,741.3L315.8,741.2L318.5,741L321.1,740.8L323.7,740.6L326.3,740.3L328.9,740L331.6,739.7L334.2,739.3L336.8,738.8L339.4,738.2L342.1,737.6L344.7,736.9L347.3,736L349.9,735L352.6,733.9L355.2,732.6L357.8,731.1L360.4,729.4L363,727.5L365.7,725.3L368.3,722.8L370.9,720.1L373.5,717L376.2,713.5L378.8,709.7L381.4,705.6L384,701L386.7,696.2L389.3,690.9L391.9,685.4L394.5,679.6L397.2,673.7L399.8,667.5L402.4,661.4" stroke="#ef3b2e"/>
<path d="M87.6,742.2L90.2,742.2L92.8,742.2L95.5,742.2L98.1,742.2L100.7,742.2L103.3,742.2L106,742.2L108.6,742.2L111.2,742.2L113.8,742.2L116.5,742.2L119.1,742.2L121.7,742.2L124.3,742.2L126.9,742.2L129.6,742.2L132.2,742.2L134.8,742.2L137.4,742.2L140.1,742.2L142.7,742.2L145.3,742.2L147.9,742.2L150.6,742.2L153.2,742.2L155.8,742.2L158.4,742.2L161.1,742.2L163.7,742.2L166.3,742.2L168.9,742.2L171.5,742.2L174.2,742.2L176.8,742.2L179.4,742.2L182,742.2L184.7,742.2L187.3,742.2L189.9,742.2L192.5,742.2L195.2,742.2L197.8,742.2L200.4,742.2L203,742.2L205.6,742.2L208.3,742.2L210.9,742.2L213.5,742.2L216.1,742.2L218.8,742.2L221.4,742.2L224,742.2L226.6,742.2L229.3,742.2L231.9,742.2L234.5,742.2L237.1,742.2L239.8,742.2L242.4,742.2L245,742.2L247.6,742.2L250.2,742.2L252.9,742.2L255.5,742.2L258.1,742.2L260.7,742.2L263.4,742.2L266,742.3L268.6,742.3L271.2,742.3L273.9,742.3L276.5,742.3L279.1,742.3L281.7,742.3L284.3,742.4L287,742.4L289.6,742.4L292.2,742.5L294.8,742.5L297.5,742.5L300.1,742.6L302.7,742.7L305.3,742.7L308,742.8L310.6,742.9L313.2,743.1L315.8,743.2L318.5,743.4L321.1,743.6L323.7,743.8L326.3,744L328.9,744.3L331.6,744.6L334.2,745L336.8,745.5L339.4,746L342.1,746.6L344.7,747.2L347.3,748L349.9,748.8L352.6,749.7L355.2,750.8L357.8,751.9L360.4,753.2L363,754.6L365.7,756.2L368.3,757.8L370.9,759.6L373.5,761.4L376.2,763.4L378.8,765.4L381.4,767.4L384,769.5L386.7,771.5L389.3,773.6L391.9,775.6L394.5,777.5L397.2,779.3L399.8,781L402.4,782.6" stroke="#ef3b2e" stroke-dasharray="7.5 4.5"/>
</g>
<path d="M87.6,742.8H402.4" stroke="#3a3030" stroke-width="1.8" stroke-opacity="0.9"/>
<circle cx="232.6" cy="734.7" r="3.6" fill="none" stroke="#8ea64a" stroke-width="1.3" stroke-opacity="0.85"/><circle cx="232.6" cy="734.7" r="1" fill="#8ea64a" fill-opacity="0.8"/>
<circle cx="232.6" cy="792.6" r="3.6" fill="none" stroke="#5ee9d8" stroke-width="1.3" stroke-opacity="0.85"/><circle cx="232.6" cy="792.6" r="1" fill="#5ee9d8" fill-opacity="0.8"/>
<path d="M87.6,774.5h3.6M87.6,742.2h6.5M87.6,701.8h3.6M87.6,661.4h6.5M87.6,620.9h3.6M87.6,580.5h6.5M99.4,808v-3.4M106.4,808v-3.4M111.3,808v-3.4M115.1,808v-3.4M118.2,808v-3.4M120.9,808v-3.4M123.1,808v-3.4M125.1,808v-3.4M126.9,808v-6.8M138.8,808v-3.4M145.7,808v-3.4M150.6,808v-3.4M154.5,808v-3.4M157.6,808v-3.4M160.2,808v-3.4M162.5,808v-3.4M164.5,808v-3.4M166.3,808v-6.8M178.1,808v-3.4M185.1,808v-3.4M190,808v-3.4M193.8,808v-3.4M196.9,808v-3.4M199.6,808v-3.4M201.8,808v-3.4M203.8,808v-3.4M205.6,808v-6.8M217.5,808v-3.4M224.4,808v-3.4M229.3,808v-3.4M233.2,808v-3.4M236.3,808v-3.4M238.9,808v-3.4M241.2,808v-3.4M243.2,808v-3.4M245,808v-6.8M256.8,808v-3.4M263.8,808v-3.4M268.7,808v-3.4M272.5,808v-3.4M275.6,808v-3.4M278.3,808v-3.4M280.5,808v-3.4M282.5,808v-3.4M284.3,808v-6.8M296.2,808v-3.4M303.1,808v-3.4M308,808v-3.4M311.9,808v-3.4M315,808v-3.4M317.6,808v-3.4M319.9,808v-3.4M321.9,808v-3.4M323.7,808v-6.8M335.5,808v-3.4M342.5,808v-3.4M347.4,808v-3.4M351.2,808v-3.4M354.3,808v-3.4M357,808v-3.4M359.2,808v-3.4M361.2,808v-3.4M363,808v-6.8M374.9,808v-3.4M381.8,808v-3.4M386.7,808v-3.4M390.6,808v-3.4M393.7,808v-3.4M396.3,808v-3.4M398.6,808v-3.4M400.6,808v-3.4" stroke="#111" stroke-width="1" fill="none"/>
<rect x="87.6" y="563.3" width="314.8" height="244.7" fill="none" stroke="#222" stroke-width="1.1"/>
<text x="77" y="586.1" text-anchor="end" >2.0</text>
<text x="77" y="666.3" text-anchor="end" >1.5</text>
<text x="77" y="747.8" text-anchor="end" >1.0</text>
<text x="77" y="812.8" text-anchor="end" >0.6</text>
<text x="71.2" y="834.7" >10<tspan style="font-size:12px" dy="-7.5">12</tspan></text>
<text x="149.9" y="834.7" >10<tspan style="font-size:12px" dy="-7.5">14</tspan></text>
<text x="228.6" y="834.7" >10<tspan style="font-size:12px" dy="-7.5">16</tspan></text>
<text x="307.3" y="834.7" >10<tspan style="font-size:12px" dy="-7.5">18</tspan></text>
<text x="386" y="834.7" >10<tspan style="font-size:12px" dy="-7.5">20</tspan></text>
<text x="103.6" y="638.6" style="fill:#3b5fe6;" fill-opacity="0.9">10<tspan style="font-size:12px" dy="-8.3">13</tspan></text>
<text x="138.8" y="651.2" style="fill:#6ec4f4;" fill-opacity="0.9">10<tspan style="font-size:12px" dy="-8.3">14</tspan></text>
<text x="172" y="665.1" style="fill:#5ee9d8;" fill-opacity="0.9">10<tspan style="font-size:12px" dy="-8.3">15</tspan></text>
<text x="205.2" y="679.2" style="fill:#6bdc5b;" fill-opacity="0.9">10<tspan style="font-size:12px" dy="-8.3">16</tspan></text>
<text x="238.7" y="693.9" style="fill:#8ea64a;" fill-opacity="0.9">10<tspan style="font-size:12px" dy="-8.3">17</tspan></text>
<text x="273.5" y="706" style="fill:#f6b40a;" fill-opacity="0.9">10<tspan style="font-size:12px" dy="-8.3">18</tspan></text>
<text x="310.8" y="713.4" style="fill:#f49b6f;" fill-opacity="0.9">10<tspan style="font-size:12px" dy="-8.3">19</tspan></text>
<text x="338.3" y="727" style="fill:#ef3b2e;" fill-opacity="0.9">10<tspan style="font-size:12px" dy="-8.3">20</tspan></text>
<text x="97.2" y="586" >SRH</text>
<text x="91.5" y="796.5" >Auger</text>
<text x="321.7" y="761.9" textLength="75.4" lengthAdjust="spacingAndGlyphs" >Radiative</text>
<text transform="translate(40 687) rotate(-90)" text-anchor="middle">Ideality factor</text>
<text x="207.6" y="860.8" ><tspan style="font-style:italic">Δn</tspan> (cm<tspan style="font-size:12px;letter-spacing:-0.9px" dy="-7">−3</tspan><tspan dy="7">)</tspan></text>
<text x="17.5" y="561.7" style="font-weight:bold;font-size:24px;" stroke="#000" stroke-width="0.7">c</text>
<clipPath id="cd"><rect x="512.9" y="571" width="298.7" height="243.4"/></clipPath>
<path d="M514.9,574.5H809.6M514.9,582H809.6M514.9,589.6H809.6M514.9,597.1H809.6M514.9,604.7H809.6M514.9,612.2H809.6M514.9,619.8H809.6M514.9,627.4H809.6M514.9,634.9H809.6M514.9,642.5H809.6M514.9,650H809.6M514.9,657.5H809.6M514.9,665.1H809.6M514.9,672.6H809.6M514.9,680.2H809.6M514.9,687.8H809.6M514.9,695.3H809.6M514.9,702.9H809.6M514.9,710.4H809.6M514.9,718H809.6M514.9,725.5H809.6M514.9,733H809.6M514.9,740.6H809.6M514.9,748.1H809.6M514.9,755.7H809.6M514.9,763.2H809.6M514.9,770.8H809.6M514.9,778.4H809.6M514.9,785.9H809.6M514.9,793.5H809.6M514.9,801H809.6M514.9,808.5H809.6" stroke="#f3f3f6" stroke-width="2.4" stroke-dasharray="2 1.6" fill="none"/>
<path d="M512.9,745.2H811.6" stroke="#8c8c8c" stroke-width="1.4" stroke-dasharray="3 2.6" fill="none"/>
<g clip-path="url(#cd)">
<path d="M512.9,618.5L524.5,633.1L550.6,666.1L577.4,690.5L603.4,712.5L624.7,724.4L626.7,729.4L631.3,734L635.9,737.4L640.4,740.5L644.8,744.1L649.4,746.9L654.4,749.5L658.9,751.5L662.5,753.4L667.6,757L671.3,759.3L675.4,761.4L679.3,763.1L683.3,764.8L687.5,766.7L691.5,768.3L695.3,769.8L699.3,771.3L703.3,772.7L707.3,774L711.3,775.1L715.1,776.2L719.3,777.4L723.1,778.3L727.5,779.1L731.9,779.8L736,780.4L740.3,780.8L744.7,781L748.9,781.4L753.3,782.7L753.9,786.8L755.2,787.2L756.5,787.5L757.8,787.9L759.1,788.2L760.4,788.6L761.7,788.9L763,789.3L764.3,789.7L765.6,790L766.9,790.3L768.3,790.6L769.6,790.9L770.9,791.1L772.3,791.2L773.6,791.1L774.9,791L776.3,790.7L777.6,790.5L778.9,790.2L780.3,789.9L781.6,789.6L782.9,789.2L784.2,788.8L785.4,788.3L786.7,787.9L787.9,787.3L789.2,786.8L790.4,786.1L791.5,785.4L792.7,784.7L793.8,783.9L794.8,783.1L795.8,782.2L796.8,781.2L797.7,780.2L798.5,779.2L799.4,778.1L800.3,777.1L801.2,776.1L802.1,775.1L803,774.1L803.8,773L804.5,771.9L805.2,770.7L805.8,769.5L806.4,768.3L807,767.1L807.6,765.9L808.2,764.6L808.7,763.4L809.2,762.1L809.6,760.9L810.1,759.6L810.4,758.3L810.8,757" fill="none" stroke="#3f7df3" stroke-width="1.5"/>
<g fill="#cfe0fb" fill-opacity="0.75" stroke="#3f7df3" stroke-opacity="0.8" stroke-width="1.2"><circle cx="524.5" cy="633.1" r="2.9"/><circle cx="550.6" cy="666.1" r="2.9"/><circle cx="577.4" cy="690.5" r="2.9"/><circle cx="603.4" cy="712.5" r="2.9"/><circle cx="624.7" cy="724.4" r="2.9"/><circle cx="626.7" cy="729.4" r="2.9"/><circle cx="631.3" cy="734" r="2.9"/><circle cx="635.9" cy="737.4" r="2.9"/><circle cx="640.4" cy="740.5" r="2.9"/><circle cx="644.8" cy="744.1" r="2.9"/><circle cx="649.4" cy="746.9" r="2.9"/><circle cx="654.4" cy="749.5" r="2.9"/><circle cx="658.9" cy="751.5" r="2.9"/><circle cx="662.5" cy="753.4" r="2.9"/><circle cx="667.6" cy="757" r="2.9"/><circle cx="671.3" cy="759.3" r="2.9"/><circle cx="675.4" cy="761.4" r="2.9"/><circle cx="679.3" cy="763.1" r="2.9"/><circle cx="683.3" cy="764.8" r="2.9"/><circle cx="687.5" cy="766.7" r="2.9"/><circle cx="691.5" cy="768.3" r="2.9"/><circle cx="695.3" cy="769.8" r="2.9"/><circle cx="699.3" cy="771.3" r="2.9"/><circle cx="703.3" cy="772.7" r="2.9"/><circle cx="707.3" cy="774" r="2.9"/><circle cx="711.3" cy="775.1" r="2.9"/><circle cx="715.1" cy="776.2" r="2.9"/><circle cx="719.3" cy="777.4" r="2.9"/><circle cx="723.1" cy="778.3" r="2.9"/><circle cx="727.5" cy="779.1" r="2.9"/><circle cx="731.9" cy="779.8" r="2.9"/><circle cx="736" cy="780.4" r="2.9"/><circle cx="740.3" cy="780.8" r="2.9"/><circle cx="744.7" cy="781" r="2.9"/><circle cx="748.9" cy="781.4" r="2.9"/><circle cx="753.3" cy="782.7" r="2.9"/><circle cx="753.9" cy="786.8" r="2.9"/><circle cx="755.2" cy="787.2" r="2.9"/><circle cx="756.5" cy="787.5" r="2.9"/><circle cx="757.8" cy="787.9" r="2.9"/><circle cx="759.1" cy="788.2" r="2.9"/><circle cx="760.4" cy="788.6" r="2.9"/><circle cx="761.7" cy="788.9" r="2.9"/><circle cx="763" cy="789.3" r="2.9"/><circle cx="764.3" cy="789.7" r="2.9"/><circle cx="765.6" cy="790" r="2.9"/><circle cx="766.9" cy="790.3" r="2.9"/><circle cx="768.3" cy="790.6" r="2.9"/><circle cx="769.6" cy="790.9" r="2.9"/><circle cx="770.9" cy="791.1" r="2.9"/><circle cx="772.3" cy="791.2" r="2.9"/><circle cx="773.6" cy="791.1" r="2.9"/><circle cx="774.9" cy="791" r="2.9"/><circle cx="776.3" cy="790.7" r="2.9"/><circle cx="777.6" cy="790.5" r="2.9"/><circle cx="778.9" cy="790.2" r="2.9"/><circle cx="780.3" cy="789.9" r="2.9"/><circle cx="781.6" cy="789.6" r="2.9"/><circle cx="782.9" cy="789.2" r="2.9"/><circle cx="784.2" cy="788.8" r="2.9"/><circle cx="785.4" cy="788.3" r="2.9"/><circle cx="786.7" cy="787.9" r="2.9"/><circle cx="787.9" cy="787.3" r="2.9"/><circle cx="789.2" cy="786.8" r="2.9"/><circle cx="790.4" cy="786.1" r="2.9"/><circle cx="791.5" cy="785.4" r="2.9"/><circle cx="792.7" cy="784.7" r="2.9"/><circle cx="793.8" cy="783.9" r="2.9"/><circle cx="794.8" cy="783.1" r="2.9"/><circle cx="795.8" cy="782.2" r="2.9"/><circle cx="796.8" cy="781.2" r="2.9"/><circle cx="797.7" cy="780.2" r="2.9"/><circle cx="798.5" cy="779.2" r="2.9"/><circle cx="799.4" cy="778.1" r="2.9"/><circle cx="800.3" cy="777.1" r="2.9"/><circle cx="801.2" cy="776.1" r="2.9"/><circle cx="802.1" cy="775.1" r="2.9"/><circle cx="803" cy="774.1" r="2.9"/><circle cx="803.8" cy="773" r="2.9"/><circle cx="804.5" cy="771.9" r="2.9"/><circle cx="805.2" cy="770.7" r="2.9"/><circle cx="805.8" cy="769.5" r="2.9"/><circle cx="806.4" cy="768.3" r="2.9"/><circle cx="807" cy="767.1" r="2.9"/><circle cx="807.6" cy="765.9" r="2.9"/><circle cx="808.2" cy="764.6" r="2.9"/><circle cx="808.7" cy="763.4" r="2.9"/><circle cx="809.2" cy="762.1" r="2.9"/><circle cx="809.6" cy="760.9" r="2.9"/><circle cx="810.1" cy="759.6" r="2.9"/><circle cx="810.4" cy="758.3" r="2.9"/><circle cx="810.8" cy="757" r="2.9"/></g>
<path d="M515.5,564L520.5,572.2L530.9,583.3L557.3,610.4L560.3,620.9L566.7,625.9L572.8,637L579.8,645L587.3,653.1L593.9,661.7L600.5,671.2L607.4,678.4L614,683.8L619.6,690.5L626.1,697.9L632.7,704.4L639.2,710.6L645.6,716L651,721.2L656.4,726.4L663.5,732L669.5,736.4L675.1,740.8L681.1,744.6L686.7,748.8L692.5,752.2L698.2,755.3L703.5,758.2L709.2,760.7L714.5,762.9L720.2,764.8L725.6,766.4L731.2,767.7L736.5,768.5L740.7,774.2L742,774.5L743.3,774.9L744.6,775.2L745.9,775.5L747.2,775.8L748.6,776.2L749.9,776.5L751.2,776.8L752.5,777.2L753.8,777.5L755.1,777.8L756.4,778.2L757.7,778.5L759,778.8L760.3,779.1L761.6,779.5L763,779.8L764.3,780.1L765.6,780.5L766.9,780.9L768.2,781.2L769.5,781.5L770.8,781.7L772.2,781.8L773.5,782L774.9,782L776.2,781.9L777.6,781.8L778.9,781.6L780.3,781.4L781.5,781.1L782.8,780.7L784.1,780.2L785.3,779.6L786.5,779L787.8,778.4L789,777.9L790.2,777.3L791.4,776.7L792.6,776L793.7,775.3L794.8,774.5L795.9,773.7L797,772.8L797.9,771.9L798.8,770.9L799.7,769.9L800.6,768.8L801.3,767.7L802.1,766.6L802.8,765.4L803.5,764.3L804.2,763.1L804.8,761.9L805.5,760.7L806.1,759.5L806.8,758.3L807.4,757.1L808,755.9L808.4,754.7L808.9,753.4L809.3,752.1L809.6,750.8L810,749.5L810.3,748.2L810.6,746.9L810.9,745.5L811.2,744.2" fill="none" stroke="#f58b8b" stroke-width="1.5"/>
<path d="M530.9,578.8L534.8,586.2L527,586.2ZM557.3,605.9L561.2,613.3L553.4,613.3ZM560.3,616.4L564.2,623.8L556.4,623.8ZM566.7,621.4L570.6,628.8L562.8,628.8ZM572.8,632.5L576.7,639.9L568.9,639.9ZM579.8,640.5L583.7,647.9L575.9,647.9ZM587.3,648.6L591.2,656L583.4,656ZM593.9,657.2L597.8,664.6L590,664.6ZM600.5,666.7L604.4,674.1L596.6,674.1ZM607.4,673.9L611.3,681.3L603.5,681.3ZM614,679.3L617.9,686.7L610.1,686.7ZM619.6,686L623.5,693.4L615.7,693.4ZM626.1,693.4L630,700.8L622.2,700.8ZM632.7,699.9L636.6,707.3L628.8,707.3ZM639.2,706.1L643.1,713.5L635.3,713.5ZM645.6,711.5L649.5,718.9L641.7,718.9ZM651,716.7L654.9,724.1L647.1,724.1ZM656.4,721.9L660.3,729.3L652.5,729.3ZM663.5,727.5L667.4,734.9L659.6,734.9ZM669.5,731.9L673.4,739.3L665.6,739.3ZM675.1,736.3L679,743.7L671.2,743.7ZM681.1,740.1L685,747.5L677.2,747.5ZM686.7,744.3L690.6,751.7L682.8,751.7ZM692.5,747.7L696.4,755.1L688.6,755.1ZM698.2,750.8L702.1,758.2L694.3,758.2ZM703.5,753.7L707.4,761.1L699.6,761.1ZM709.2,756.2L713.1,763.6L705.3,763.6ZM714.5,758.4L718.4,765.8L710.6,765.8ZM720.2,760.3L724.1,767.7L716.3,767.7ZM725.6,761.9L729.5,769.3L721.7,769.3ZM731.2,763.2L735.1,770.6L727.3,770.6ZM736.5,764L740.4,771.4L732.6,771.4ZM740.7,769.7L744.6,777.1L736.8,777.1ZM742,770L745.9,777.5L738.1,777.5ZM743.3,770.4L747.2,777.8L739.4,777.8ZM744.6,770.7L748.5,778.1L740.7,778.1ZM745.9,771L749.8,778.4L742,778.4ZM747.2,771.4L751.1,778.8L743.3,778.8ZM748.6,771.7L752.5,779.1L744.7,779.1ZM749.9,772L753.8,779.4L746,779.4ZM751.2,772.3L755.1,779.8L747.3,779.8ZM752.5,772.7L756.4,780.1L748.6,780.1ZM753.8,773L757.7,780.4L749.9,780.4ZM755.1,773.3L759,780.7L751.2,780.7ZM756.4,773.7L760.3,781.1L752.5,781.1ZM757.7,774L761.6,781.4L753.8,781.4ZM759,774.3L762.9,781.7L755.1,781.7ZM760.3,774.6L764.2,782.1L756.4,782.1ZM761.6,775L765.5,782.4L757.7,782.4ZM763,775.3L766.9,782.7L759.1,782.7ZM764.3,775.6L768.2,783.1L760.4,783.1ZM765.6,776L769.5,783.4L761.7,783.4ZM766.9,776.4L770.8,783.8L763,783.8ZM768.2,776.7L772.1,784.1L764.3,784.1ZM769.5,777L773.4,784.4L765.6,784.4ZM770.8,777.2L774.7,784.6L766.9,784.6ZM772.2,777.4L776.1,784.8L768.3,784.8ZM773.5,777.5L777.4,784.9L769.6,784.9ZM774.9,777.5L778.8,784.9L771,784.9ZM776.2,777.5L780.1,784.9L772.3,784.9ZM777.6,777.3L781.5,784.7L773.7,784.7ZM778.9,777.1L782.8,784.5L775,784.5ZM780.3,776.9L784.2,784.3L776.4,784.3ZM781.5,776.6L785.4,784L777.6,784ZM782.8,776.2L786.7,783.6L778.9,783.6ZM784.1,775.7L788,783.1L780.2,783.1ZM785.3,775.1L789.2,782.5L781.4,782.5ZM786.5,774.5L790.4,781.9L782.6,781.9ZM787.8,773.9L791.7,781.4L783.9,781.4ZM789,773.4L792.9,780.8L785.1,780.8ZM790.2,772.8L794.1,780.2L786.3,780.2ZM791.4,772.2L795.3,779.6L787.5,779.6ZM792.6,771.5L796.5,778.9L788.7,778.9ZM793.7,770.8L797.6,778.2L789.8,778.2ZM794.8,770L798.7,777.4L790.9,777.4ZM795.9,769.2L799.8,776.6L792,776.6ZM797,768.3L800.9,775.7L793.1,775.7ZM797.9,767.4L801.8,774.8L794,774.8ZM798.8,766.4L802.7,773.8L794.9,773.8ZM799.7,765.4L803.6,772.8L795.8,772.8ZM800.6,764.3L804.5,771.7L796.7,771.7ZM801.3,763.2L805.2,770.6L797.4,770.6ZM802.1,762.1L806,769.5L798.2,769.5ZM802.8,760.9L806.7,768.4L798.9,768.4ZM803.5,759.8L807.4,767.2L799.6,767.2ZM804.2,758.6L808.1,766L800.3,766ZM804.8,757.4L808.7,764.8L800.9,764.8ZM805.5,756.2L809.4,763.7L801.6,763.7ZM806.1,755.1L810,762.5L802.2,762.5ZM806.8,753.9L810.7,761.3L802.9,761.3ZM807.4,752.7L811.3,760.1L803.5,760.1ZM808,751.4L811.9,758.8L804.1,758.8ZM808.4,750.2L812.3,757.6L804.5,757.6ZM808.9,748.9L812.8,756.3L805,756.3ZM809.3,747.6L813.2,755L805.4,755ZM809.6,746.3L813.5,753.7L805.7,753.7ZM810,745L813.9,752.4L806.1,752.4ZM810.3,743.7L814.2,751.1L806.4,751.1ZM810.6,742.4L814.5,749.8L806.7,749.8ZM810.9,741.1L814.8,748.5L807,748.5ZM811.2,739.7L815.1,747.1L807.3,747.1Z" fill="#f9b4b4" fill-opacity="0.8" stroke="#f58b8b" stroke-opacity="0.85" stroke-width="1"/>
</g>
<path d="M656.4,721.7L660.7,729.8L652.1,729.8Z" fill="#ffe600" stroke="#f7941d" stroke-width="1.3"/>
<circle cx="662.6" cy="753.5" r="3.1" fill="#f2f20a" stroke="#3f8f3f" stroke-width="1.3"/>
<path d="M691.6,704.3L661.8,723.2M693.7,707.3L666.5,746.8" stroke="#111" stroke-width="1.6" stroke-dasharray="3 2.8" fill="none"/>
<text x="695.4" y="708.9" ><tspan style="font-style:italic">V</tspan><tspan style="font-size:12px" dy="5.8">MPP</tspan></text>
<path d="M680.1,610.2H717.6" stroke="#6d99f8" stroke-width="2.2"/><circle cx="698.6" cy="610.2" r="2" fill="#e4edfd" stroke="#6d99f8" stroke-width="1.1"/>
<path d="M680.1,630.8H717.6" stroke="#f9a3a3" stroke-width="2.2"/><path d="M698.6,628.4L700.9,632.7L696.3,632.7Z" fill="#fbc4c4" stroke="#f79a9a" stroke-width="0.9"/>
<text x="724.6" y="616.2" textLength="64.4" lengthAdjust="spacingAndGlyphs" >27.81%</text>
<text x="724.6" y="636.6" textLength="64.4" lengthAdjust="spacingAndGlyphs" >27.63%</text>
<path d="M512.9,778.6h6.5M512.9,744h3.6M512.9,709.4h6.5M512.9,674.8h3.6M512.9,640.2h6.5M512.9,605.6h3.6M562.7,814.4v-3.6M612.5,814.4v-6.5M662.3,814.4v-3.6M712,814.4v-6.5M761.8,814.4v-3.6" stroke="#111" stroke-width="1" fill="none"/>
<rect x="512.9" y="571" width="298.7" height="243.4" fill="none" stroke="#222" stroke-width="1.1"/>
<text x="502.5" y="784.8" text-anchor="end" >0.8</text>
<text x="502.5" y="715.6" text-anchor="end" >1.2</text>
<text x="502.5" y="646.4" text-anchor="end" >1.6</text>
<text x="502.5" y="577.2" text-anchor="end" >2.0</text>
<text x="512.9" y="837.6" text-anchor="middle" textLength="34.8" lengthAdjust="spacingAndGlyphs" >0.60</text>
<text x="612.5" y="837.6" text-anchor="middle" textLength="34.8" lengthAdjust="spacingAndGlyphs" >0.65</text>
<text x="712" y="837.6" text-anchor="middle" textLength="34.8" lengthAdjust="spacingAndGlyphs" >0.70</text>
<text x="810.4" y="837.6" text-anchor="middle" textLength="34.8" lengthAdjust="spacingAndGlyphs" >0.75</text>
<text transform="translate(465.5 692) rotate(-90)" text-anchor="middle" textLength="165" lengthAdjust="spacingAndGlyphs">Local ideality factor</text>
<text x="617.5" y="866.7" textLength="88.5" lengthAdjust="spacingAndGlyphs" >Voltage (V)</text>
<text x="448.5" y="562.5" style="font-weight:bold;font-size:24px;" stroke="#000" stroke-width="0.7">d</text>
<path d="M857.2,647.3 900.5,599 924.5,626.8 946.3,605.8 967.7,625.3 992.9,599.1 1019.6,627.3 1029.1,618.2 1040.2,628.3 1067.2,598.3 1095.9,627.2 1116,608.5 1138.9,623.8 1167.1,597.7 1217.9,649.4 1217.9,660.6 1167.1,614.8 1138.9,640.9 1116,625.6 1095.9,644.3 1067.2,615.4 1040.2,645.4 1029.1,635.3 1019.6,644.4 992.9,616.2 967.7,642.4 946.3,622.9 924.5,643.9 900.5,616.1 857.2,659.6Z" fill="#a68db8"/>
<path d="M857.2,659.6 900.5,616.1 924.5,643.9 946.3,622.9 967.7,642.4 992.9,616.2 1019.6,644.4 1029.1,635.3 1040.2,645.4 1067.2,615.4 1095.9,644.3 1116,625.6 1138.9,640.9 1167.1,614.8 1217.9,660.6 1207.3,660.6 1167.1,627.5 1138.9,653.6 1116,638.3 1095.9,657 1067.2,628.1 1040.2,658.1 1029.1,648 1019.6,657.1 992.9,628.9 967.7,655.1 946.3,635.6 924.5,656.6 900.5,628.8 869.2,659.6Z" fill="#93b9c5"/>
<path d="M880.7,661 900.5,641.3 924.5,669.1 946.3,648.1 967.7,667.6 992.9,641.4 1019.6,669.6 1029.1,660.5 1040.2,670.6 1067.2,640.6 1095.9,669.5 1116,650.8 1138.9,666.1 1167.1,640 1195.2,661 1195.2,820.4 880.7,820.4Z" fill="#fff0cc"/>
<rect x="857.3" y="659.6" width="10.9" height="175.2" fill="#b8e2a2"/>
<rect x="1208.5" y="660.6" width="10" height="174.2" fill="#b8e2a2"/>
<rect x="857.3" y="834.6" width="136.8" height="17.6" fill="#de8a87"/>
<rect x="994.1" y="834.6" width="224.4" height="17.6" fill="#b6a596"/>
<clipPath id="ce"><path d="M869.2,659.6 900.5,628.8 924.5,656.6 946.3,635.6 967.7,655.1 992.9,628.9 1019.6,657.1 1029.1,648 1040.2,658.1 1067.2,628.1 1095.9,657 1116,638.3 1138.9,653.6 1167.1,627.5 1207.3,660.6 1207.3,668 1195.2,668 1167.1,640 1138.9,666.1 1116,650.8 1095.9,669.5 1067.2,640.6 1040.2,670.6 1029.1,660.5 1019.6,669.6 992.9,641.4 967.7,667.6 946.3,648.1 924.5,669.1 900.5,641.3 880.7,668 869.2,668Z"/></clipPath>
<path d="M812.5,621.2h7.2M829.9,621.2h7.2M847.3,621.2h7.2M864.7,621.2h7.2M882.1,621.2h7.2M899.5,621.2h7.2M916.9,621.2h7.2M934.3,621.2h7.2M951.7,621.2h7.2M969.1,621.2h7.2M986.5,621.2h7.2M1003.9,621.2h7.2M1021.3,621.2h7.2M1038.7,621.2h7.2M1056.1,621.2h7.2M1073.5,621.2h7.2M1090.9,621.2h7.2M1108.3,621.2h7.2M1125.7,621.2h7.2M1143.1,621.2h7.2M1160.5,621.2h7.2M1177.9,621.2h7.2M1195.3,621.2h7.2M803.8,628.7h7.2M821.2,628.7h7.2M838.6,628.7h7.2M856,628.7h7.2M873.4,628.7h7.2M890.8,628.7h7.2M908.2,628.7h7.2M925.6,628.7h7.2M943,628.7h7.2M960.4,628.7h7.2M977.8,628.7h7.2M995.2,628.7h7.2M1012.6,628.7h7.2M1030,628.7h7.2M1047.4,628.7h7.2M1064.8,628.7h7.2M1082.2,628.7h7.2M1099.6,628.7h7.2M1117,628.7h7.2M1134.4,628.7h7.2M1151.8,628.7h7.2M1169.2,628.7h7.2M1186.6,628.7h7.2M1204,628.7h7.2M812.5,636.2h7.2M829.9,636.2h7.2M847.3,636.2h7.2M864.7,636.2h7.2M882.1,636.2h7.2M899.5,636.2h7.2M916.9,636.2h7.2M934.3,636.2h7.2M951.7,636.2h7.2M969.1,636.2h7.2M986.5,636.2h7.2M1003.9,636.2h7.2M1021.3,636.2h7.2M1038.7,636.2h7.2M1056.1,636.2h7.2M1073.5,636.2h7.2M1090.9,636.2h7.2M1108.3,636.2h7.2M1125.7,636.2h7.2M1143.1,636.2h7.2M1160.5,636.2h7.2M1177.9,636.2h7.2M1195.3,636.2h7.2M803.8,643.8h7.2M821.2,643.8h7.2M838.6,643.8h7.2M856,643.8h7.2M873.4,643.8h7.2M890.8,643.8h7.2M908.2,643.8h7.2M925.6,643.8h7.2M943,643.8h7.2M960.4,643.8h7.2M977.8,643.8h7.2M995.2,643.8h7.2M1012.6,643.8h7.2M1030,643.8h7.2M1047.4,643.8h7.2M1064.8,643.8h7.2M1082.2,643.8h7.2M1099.6,643.8h7.2M1117,643.8h7.2M1134.4,643.8h7.2M1151.8,643.8h7.2M1169.2,643.8h7.2M1186.6,643.8h7.2M1204,643.8h7.2M812.5,651.4h7.2M829.9,651.4h7.2M847.3,651.4h7.2M864.7,651.4h7.2M882.1,651.4h7.2M899.5,651.4h7.2M916.9,651.4h7.2M934.3,651.4h7.2M951.7,651.4h7.2M969.1,651.4h7.2M986.5,651.4h7.2M1003.9,651.4h7.2M1021.3,651.4h7.2M1038.7,651.4h7.2M1056.1,651.4h7.2M1073.5,651.4h7.2M1090.9,651.4h7.2M1108.3,651.4h7.2M1125.7,651.4h7.2M1143.1,651.4h7.2M1160.5,651.4h7.2M1177.9,651.4h7.2M1195.3,651.4h7.2M803.8,658.9h7.2M821.2,658.9h7.2M838.6,658.9h7.2M856,658.9h7.2M873.4,658.9h7.2M890.8,658.9h7.2M908.2,658.9h7.2M925.6,658.9h7.2M943,658.9h7.2M960.4,658.9h7.2M977.8,658.9h7.2M995.2,658.9h7.2M1012.6,658.9h7.2M1030,658.9h7.2M1047.4,658.9h7.2M1064.8,658.9h7.2M1082.2,658.9h7.2M1099.6,658.9h7.2M1117,658.9h7.2M1134.4,658.9h7.2M1151.8,658.9h7.2M1169.2,658.9h7.2M1186.6,658.9h7.2M1204,658.9h7.2M812.5,666.5h7.2M829.9,666.5h7.2M847.3,666.5h7.2M864.7,666.5h7.2M882.1,666.5h7.2M899.5,666.5h7.2M916.9,666.5h7.2M934.3,666.5h7.2M951.7,666.5h7.2M969.1,666.5h7.2M986.5,666.5h7.2M1003.9,666.5h7.2M1021.3,666.5h7.2M1038.7,666.5h7.2M1056.1,666.5h7.2M1073.5,666.5h7.2M1090.9,666.5h7.2M1108.3,666.5h7.2M1125.7,666.5h7.2M1143.1,666.5h7.2M1160.5,666.5h7.2M1177.9,666.5h7.2M1195.3,666.5h7.2" stroke="#1a1a1a" stroke-width="2.1" fill="none" clip-path="url(#ce)"/>
<path d="M874.4,667.1H880.9M1195.6,667.1H1203M874.4,682.4H880.9M1195.6,682.4H1203M874.4,697.8H880.9M1195.6,697.8H1203M874.4,713.1H880.9M1195.6,713.1H1203M874.4,728.4H880.9M1195.6,728.4H1203M874.4,743.8H880.9M1195.6,743.8H1203M874.4,759.1H880.9M1195.6,759.1H1203M874.4,774.4H880.9M1195.6,774.4H1203M874.4,789.7H880.9M1195.6,789.7H1203M874.4,805.1H880.9M1195.6,805.1H1203M874.4,820.4H880.9M1195.6,820.4H1203" stroke="#1a1a1a" stroke-width="2.1" fill="none"/>
<path d="M872.9,674.8h1.6M872.9,690.1h1.6M872.9,705.4h1.6M872.9,720.7h1.6M872.9,736.1h1.6M872.9,751.4h1.6M872.9,766.7h1.6M872.9,782.1h1.6M872.9,797.4h1.6M872.9,812.7h1.6M872.9,828.1h1.6" stroke="#1a1a1a" stroke-width="1.8" fill="none"/>
<path d="M872.7,662V834" stroke="#c9cfe6" stroke-width="0.9" fill="none"/>
<path d="M1205,662V834" stroke="#b8e2a2" stroke-width="1" stroke-dasharray="6 4" fill="none"/>
<path d="M874,821.4H1203" stroke="#6f6f6f" stroke-width="1" stroke-dasharray="7.2 8.2" fill="none"/>
<path d="M882.5,828.2v6.4M897.9,828.2v6.4M913.3,828.2v6.4M928.8,828.2v6.4M944.2,828.2v6.4M959.6,828.2v6.4M975,828.2v6.4M990.4,828.2v6.4M868,828.2v6.4" stroke="#e0605c" stroke-width="1.3" fill="none"/>
<path d="M1005.9,828.2v6.4M1021.3,828.2v6.4M1036.7,828.2v6.4M1052.1,828.2v6.4M1067.5,828.2v6.4M1083,828.2v6.4M1098.4,828.2v6.4M1113.8,828.2v6.4M1129.2,828.2v6.4M1144.6,828.2v6.4M1160.1,828.2v6.4M1175.5,828.2v6.4M1190.9,828.2v6.4" stroke="#8a6f55" stroke-width="1.3" fill="none"/>
<path d="M882,828.2h7.6M897.4,828.2h7.6M912.8,828.2h7.6M928.3,828.2h7.6M943.7,828.2h7.6M959.1,828.2h7.6M974.5,828.2h7.6M989.9,828.2h7.6M1005.4,828.2h7.6M1020.8,828.2h7.6M1036.2,828.2h7.6M1051.6,828.2h7.6M1067,828.2h7.6M1082.5,828.2h7.6M1097.9,828.2h7.6M1113.3,828.2h7.6M1128.7,828.2h7.6M1144.1,828.2h7.6M1159.6,828.2h7.6M1175,828.2h7.6M1190.4,828.2h7.6M872.9,828.2h1.6" stroke="#1a1a1a" stroke-width="2" fill="none"/>
<path d="M1142.9,677.5Q1145.5,666 1151,658.8" stroke="#111" stroke-width="1.4" stroke-dasharray="2.6 2.4" fill="none"/><path d="M1151,658.8L1148,669.8L1146.5,664.6L1141.2,664.5Z" fill="#111"/>
<path d="M1151.6,696.2L1189.8,750.9" stroke="#111" stroke-width="1.4" stroke-dasharray="2.6 2.4" fill="none"/><path d="M1189.8,750.9L1180.3,744.8L1185.6,744.9L1187.3,739.8Z" fill="#111"/>
<path d="M1141.5,696.6L1161.3,820.5" stroke="#111" stroke-width="1.4" stroke-dasharray="2.6 2.4" fill="none"/><path d="M1161.3,820.5L1155.4,810.8L1160.1,813.2L1163.9,809.5Z" fill="#111"/>
<path d="M918.5,695.1L884.7,752" stroke="#111" stroke-width="1.4" stroke-dasharray="2.6 2.4" fill="none"/><path d="M884.7,752L886.4,740.8L888.5,745.7L893.8,745.2Z" fill="#111"/>
<text x="925.1" y="562.7" textLength="217" lengthAdjust="spacingAndGlyphs" >Optical enhancing/surface</text>
<text x="955.7" y="585.1" textLength="155.8" lengthAdjust="spacingAndGlyphs" >passivation layer(s)</text>
<text x="895.3" y="689.1" textLength="265.2" lengthAdjust="spacingAndGlyphs" style="font-size:15.4px;" >Rich majority carrier subsurface, <tspan style="font-style:italic">m</tspan> = 1</text>
<text x="905.9" y="747.5" textLength="230.9" lengthAdjust="spacingAndGlyphs" style="font-size:15.4px;" >Low majority carrier bulk, <tspan style="font-style:italic">m</tspan> = 2/3</text>
<text x="908.3" y="876.8" textLength="251.4" lengthAdjust="spacingAndGlyphs" >Passivated tunnelling contacts</text>
<text x="843.3" y="562.6" style="font-weight:bold;font-size:24px;" stroke="#000" stroke-width="0.7">e</text>
</svg>
</body></html>
